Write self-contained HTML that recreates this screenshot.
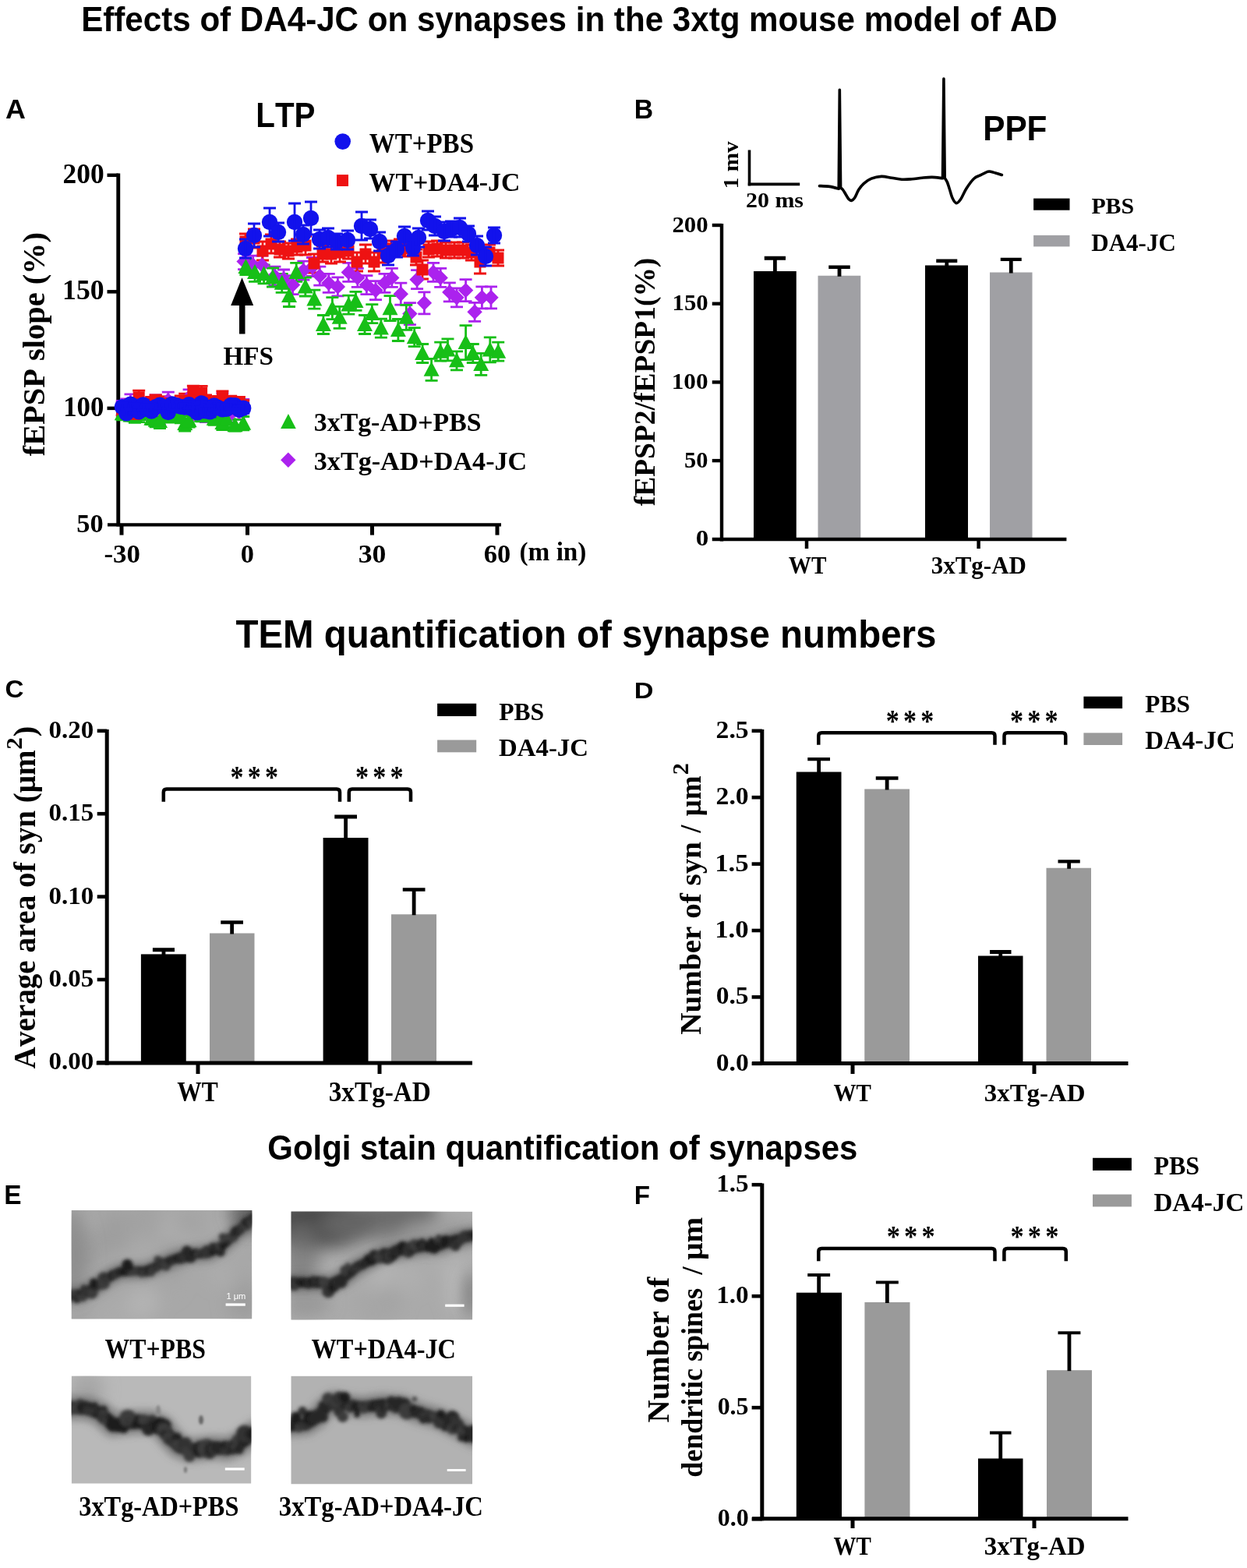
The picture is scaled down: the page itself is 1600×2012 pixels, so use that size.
<!DOCTYPE html>
<html><head><meta charset="utf-8"><title>Effects of DA4-JC on synapses</title>
<style>html,body{margin:0;padding:0;background:#fff;} svg{display:block;} text{font-kerning:none;}</style>
</head><body>
<svg width="1600" height="2012" viewBox="0 0 1600 2012">
<defs>
<filter id="bd" filterUnits="userSpaceOnUse" x="0" y="1500" width="700" height="450"><feGaussianBlur stdDeviation="2.3"/></filter>
<filter id="bh" filterUnits="userSpaceOnUse" x="0" y="1500" width="700" height="450"><feGaussianBlur stdDeviation="5"/></filter>
<filter id="bm" filterUnits="userSpaceOnUse" x="0" y="1500" width="700" height="450"><feGaussianBlur stdDeviation="10"/></filter>
<filter id="bs" filterUnits="userSpaceOnUse" x="0" y="1500" width="700" height="450"><feGaussianBlur stdDeviation="1.5"/></filter>
<clipPath id="c1"><rect x="91.7" y="1553" width="231.6" height="139.4"/></clipPath>
<clipPath id="c2"><rect x="373.5" y="1554.6" width="232.7" height="139"/></clipPath>
<clipPath id="c3"><rect x="91.7" y="1765.6" width="230.7" height="138.1"/></clipPath>
<clipPath id="c4"><rect x="373.3" y="1765.6" width="232.9" height="138.9"/></clipPath>
<linearGradient id="g2" x1="0" y1="0" x2="1" y2="1"><stop offset="0" stop-color="#4e4e4e"/><stop offset="0.45" stop-color="#8a8a8a"/><stop offset="0.75" stop-color="#b2b2b2"/><stop offset="1" stop-color="#b0b0b0"/></linearGradient>
</defs>
<rect x="0" y="0" width="1600" height="2012" fill="#ffffff"/>
<text x="104.18" y="39.50" font-family="'Liberation Sans', Arial, Helvetica, sans-serif" font-weight="bold" font-size="43.61" textLength="1252.59" lengthAdjust="spacingAndGlyphs" fill="#000">Effects of DA4-JC on synapses in the 3xtg mouse model of AD</text>
<text x="302.47" y="831.00" font-family="'Liberation Sans', Arial, Helvetica, sans-serif" font-weight="bold" font-size="49.42" textLength="898.98" lengthAdjust="spacingAndGlyphs" fill="#000">TEM quantification of synapse numbers</text>
<text x="343.28" y="1487.50" font-family="'Liberation Sans', Arial, Helvetica, sans-serif" font-weight="bold" font-size="45.06" textLength="757.14" lengthAdjust="spacingAndGlyphs" fill="#000">Golgi stain quantification of synapses</text>
<text x="7.01" y="152.00" font-family="'Liberation Sans', Arial, Helvetica, sans-serif" font-weight="bold" font-size="34.30" textLength="25.94" lengthAdjust="spacingAndGlyphs" fill="#000">A</text>
<text x="813.74" y="151.90" font-family="'Liberation Sans', Arial, Helvetica, sans-serif" font-weight="bold" font-size="35.47" textLength="24.39" lengthAdjust="spacingAndGlyphs" fill="#000">B</text>
<text x="6.54" y="895.20" font-family="'Liberation Sans', Arial, Helvetica, sans-serif" font-weight="bold" font-size="31.40" textLength="23.97" lengthAdjust="spacingAndGlyphs" fill="#000">C</text>
<text x="813.71" y="895.60" font-family="'Liberation Sans', Arial, Helvetica, sans-serif" font-weight="bold" font-size="30.23" textLength="24.73" lengthAdjust="spacingAndGlyphs" fill="#000">D</text>
<text x="5.26" y="1545.00" font-family="'Liberation Sans', Arial, Helvetica, sans-serif" font-weight="bold" font-size="35.03" textLength="22.29" lengthAdjust="spacingAndGlyphs" fill="#000">E</text>
<text x="813.78" y="1545.00" font-family="'Liberation Sans', Arial, Helvetica, sans-serif" font-weight="bold" font-size="34.01" textLength="20.23" lengthAdjust="spacingAndGlyphs" fill="#000">F</text>
<text x="328.31" y="162.50" font-family="'Liberation Sans', Arial, Helvetica, sans-serif" font-weight="bold" font-size="43.90" textLength="76.07" lengthAdjust="spacingAndGlyphs" fill="#000">LTP</text>
<text x="1261.17" y="179.90" font-family="'Liberation Sans', Arial, Helvetica, sans-serif" font-weight="bold" font-size="44.48" textLength="82.28" lengthAdjust="spacingAndGlyphs" fill="#000">PPF</text>
<line x1="151.75" y1="222.50" x2="151.75" y2="675.60" stroke="#000" stroke-width="4.9" stroke-linecap="butt"/>
<line x1="138.00" y1="673.40" x2="643.00" y2="673.40" stroke="#000" stroke-width="4.4" stroke-linecap="butt"/>
<line x1="137.50" y1="224.80" x2="151.75" y2="224.80" stroke="#000" stroke-width="4.5" stroke-linecap="butt"/>
<line x1="137.50" y1="374.34" x2="151.75" y2="374.34" stroke="#000" stroke-width="4.5" stroke-linecap="butt"/>
<line x1="137.50" y1="523.87" x2="151.75" y2="523.87" stroke="#000" stroke-width="4.5" stroke-linecap="butt"/>
<line x1="156.00" y1="673.40" x2="156.00" y2="686.60" stroke="#000" stroke-width="5" stroke-linecap="butt"/>
<line x1="317.50" y1="673.40" x2="317.50" y2="686.60" stroke="#000" stroke-width="5" stroke-linecap="butt"/>
<line x1="477.50" y1="673.40" x2="477.50" y2="686.60" stroke="#000" stroke-width="5" stroke-linecap="butt"/>
<line x1="638.00" y1="673.40" x2="638.00" y2="686.60" stroke="#000" stroke-width="5" stroke-linecap="butt"/>
<text x="80.51" y="234.50" font-family="'Liberation Serif', 'Times New Roman', serif" font-weight="bold" font-size="35.00" textLength="53.14" lengthAdjust="spacingAndGlyphs" fill="#000">200</text>
<text x="80.14" y="384.04" font-family="'Liberation Serif', 'Times New Roman', serif" font-weight="bold" font-size="35.00" textLength="53.52" lengthAdjust="spacingAndGlyphs" fill="#000">150</text>
<text x="81.21" y="533.57" font-family="'Liberation Serif', 'Times New Roman', serif" font-weight="bold" font-size="35.00" textLength="52.21" lengthAdjust="spacingAndGlyphs" fill="#000">100</text>
<text x="98.32" y="682.61" font-family="'Liberation Serif', 'Times New Roman', serif" font-weight="bold" font-size="34.00" textLength="34.39" lengthAdjust="spacingAndGlyphs" fill="#000">50</text>
<text x="133.42" y="721.60" font-family="'Liberation Serif', 'Times New Roman', serif" font-weight="bold" font-size="34.00" textLength="46.51" lengthAdjust="spacingAndGlyphs" fill="#000">-30</text>
<text x="308.89" y="721.60" font-family="'Liberation Serif', 'Times New Roman', serif" font-weight="bold" font-size="34.00" textLength="17.22" lengthAdjust="spacingAndGlyphs" fill="#000">0</text>
<text x="459.66" y="721.80" font-family="'Liberation Serif', 'Times New Roman', serif" font-weight="bold" font-size="34.00" textLength="35.70" lengthAdjust="spacingAndGlyphs" fill="#000">30</text>
<text x="620.82" y="721.80" font-family="'Liberation Serif', 'Times New Roman', serif" font-weight="bold" font-size="34.00" textLength="34.49" lengthAdjust="spacingAndGlyphs" fill="#000">60</text>
<text x="666.54" y="718.50" font-family="'Liberation Serif', 'Times New Roman', serif" font-weight="bold" font-size="32.84" textLength="85.92" lengthAdjust="spacingAndGlyphs" fill="#000">(m in)</text>
<text transform="translate(56.60,585.00) rotate(-90)" x="-0.30" y="0" font-family="'Liberation Serif', 'Times New Roman', serif" font-weight="bold" font-size="40.47" textLength="287.27" lengthAdjust="spacingAndGlyphs" fill="#000">fEPSP slope (%)</text>
<path d="M156.8,514.4 V532.7 M148.8,514.4 H164.8 M148.8,532.7 H164.8" stroke="#ab22ee" stroke-width="2.8" fill="none"/>
<path d="M162.2,511.8 V528.7 M154.2,511.8 H170.2 M154.2,528.7 H170.2" stroke="#ab22ee" stroke-width="2.8" fill="none"/>
<path d="M167.5,505.9 V527.4 M159.5,505.9 H175.5 M159.5,527.4 H175.5" stroke="#ab22ee" stroke-width="2.8" fill="none"/>
<path d="M172.9,510.3 V531.1 M164.9,510.3 H180.9 M164.9,531.1 H180.9" stroke="#ab22ee" stroke-width="2.8" fill="none"/>
<path d="M178.2,513.7 V533.0 M170.2,513.7 H186.2 M170.2,533.0 H186.2" stroke="#ab22ee" stroke-width="2.8" fill="none"/>
<path d="M183.6,520.5 V538.2 M175.6,520.5 H191.6 M175.6,538.2 H191.6" stroke="#ab22ee" stroke-width="2.8" fill="none"/>
<path d="M189.0,513.5 V530.8 M181.0,513.5 H197.0 M181.0,530.8 H197.0" stroke="#ab22ee" stroke-width="2.8" fill="none"/>
<path d="M194.3,509.8 V531.4 M186.3,509.8 H202.3 M186.3,531.4 H202.3" stroke="#ab22ee" stroke-width="2.8" fill="none"/>
<path d="M199.7,506.8 V527.6 M191.7,506.8 H207.7 M191.7,527.6 H207.7" stroke="#ab22ee" stroke-width="2.8" fill="none"/>
<path d="M205.0,527.7 V544.8 M197.0,527.7 H213.0 M197.0,544.8 H213.0" stroke="#ab22ee" stroke-width="2.8" fill="none"/>
<path d="M210.4,517.7 V538.1 M202.4,517.7 H218.4 M202.4,538.1 H218.4" stroke="#ab22ee" stroke-width="2.8" fill="none"/>
<path d="M215.8,503.1 V524.3 M207.8,503.1 H223.8 M207.8,524.3 H223.8" stroke="#ab22ee" stroke-width="2.8" fill="none"/>
<path d="M221.1,511.6 V531.3 M213.1,511.6 H229.1 M213.1,531.3 H229.1" stroke="#ab22ee" stroke-width="2.8" fill="none"/>
<path d="M226.5,516.1 V536.2 M218.5,516.1 H234.5 M218.5,536.2 H234.5" stroke="#ab22ee" stroke-width="2.8" fill="none"/>
<path d="M231.8,519.3 V538.2 M223.8,519.3 H239.8 M223.8,538.2 H239.8" stroke="#ab22ee" stroke-width="2.8" fill="none"/>
<path d="M237.2,515.8 V532.3 M229.2,515.8 H245.2 M229.2,532.3 H245.2" stroke="#ab22ee" stroke-width="2.8" fill="none"/>
<path d="M242.6,499.9 V519.2 M234.6,499.9 H250.6 M234.6,519.2 H250.6" stroke="#ab22ee" stroke-width="2.8" fill="none"/>
<path d="M247.9,521.2 V539.0 M239.9,521.2 H255.9 M239.9,539.0 H255.9" stroke="#ab22ee" stroke-width="2.8" fill="none"/>
<path d="M253.3,504.7 V526.0 M245.3,504.7 H261.3 M245.3,526.0 H261.3" stroke="#ab22ee" stroke-width="2.8" fill="none"/>
<path d="M258.6,518.8 V539.9 M250.6,518.8 H266.6 M250.6,539.9 H266.6" stroke="#ab22ee" stroke-width="2.8" fill="none"/>
<path d="M264.0,522.1 V541.7 M256.0,522.1 H272.0 M256.0,541.7 H272.0" stroke="#ab22ee" stroke-width="2.8" fill="none"/>
<path d="M269.4,515.0 V533.6 M261.4,515.0 H277.4 M261.4,533.6 H277.4" stroke="#ab22ee" stroke-width="2.8" fill="none"/>
<path d="M274.7,509.9 V530.8 M266.7,509.9 H282.7 M266.7,530.8 H282.7" stroke="#ab22ee" stroke-width="2.8" fill="none"/>
<path d="M280.1,510.1 V526.4 M272.1,510.1 H288.1 M272.1,526.4 H288.1" stroke="#ab22ee" stroke-width="2.8" fill="none"/>
<path d="M285.4,504.6 V522.3 M277.4,504.6 H293.4 M277.4,522.3 H293.4" stroke="#ab22ee" stroke-width="2.8" fill="none"/>
<path d="M290.8,511.1 V530.3 M282.8,511.1 H298.8 M282.8,530.3 H298.8" stroke="#ab22ee" stroke-width="2.8" fill="none"/>
<path d="M296.2,519.9 V541.9 M288.2,519.9 H304.2 M288.2,541.9 H304.2" stroke="#ab22ee" stroke-width="2.8" fill="none"/>
<path d="M301.5,514.0 V531.2 M293.5,514.0 H309.5 M293.5,531.2 H309.5" stroke="#ab22ee" stroke-width="2.8" fill="none"/>
<path d="M306.9,518.4 V538.2 M298.9,518.4 H314.9 M298.9,538.2 H314.9" stroke="#ab22ee" stroke-width="2.8" fill="none"/>
<path d="M312.2,512.3 V530.0 M304.2,512.3 H320.2 M304.2,530.0 H320.2" stroke="#ab22ee" stroke-width="2.8" fill="none"/>
<path d="M313.1,325.6 V345.6 M305.1,325.6 H321.1 M305.1,345.6 H321.1" stroke="#ab22ee" stroke-width="2.8" fill="none"/>
<path d="M324.7,328.2 V352.2 M316.7,328.2 H332.7 M316.7,352.2 H332.7" stroke="#ab22ee" stroke-width="2.8" fill="none"/>
<path d="M336.3,328.2 V352.2 M328.3,328.2 H344.3 M328.3,352.2 H344.3" stroke="#ab22ee" stroke-width="2.8" fill="none"/>
<path d="M352.4,342.1 V366.1 M344.4,342.1 H360.4 M344.4,366.1 H360.4" stroke="#ab22ee" stroke-width="2.8" fill="none"/>
<path d="M364.0,346.0 V370.0 M356.0,346.0 H372.0 M356.0,370.0 H372.0" stroke="#ab22ee" stroke-width="2.8" fill="none"/>
<path d="M375.6,353.6 V377.6 M367.6,353.6 H383.6 M367.6,377.6 H383.6" stroke="#ab22ee" stroke-width="2.8" fill="none"/>
<path d="M389.4,335.1 V359.1 M381.4,335.1 H397.4 M381.4,359.1 H397.4" stroke="#ab22ee" stroke-width="2.8" fill="none"/>
<path d="M401.0,330.5 V354.5 M393.0,330.5 H409.0 M393.0,354.5 H409.0" stroke="#ab22ee" stroke-width="2.8" fill="none"/>
<path d="M410.3,342.1 V366.1 M402.3,342.1 H418.3 M402.3,366.1 H418.3" stroke="#ab22ee" stroke-width="2.8" fill="none"/>
<path d="M421.8,351.3 V375.3 M413.8,351.3 H429.8 M413.8,375.3 H429.8" stroke="#ab22ee" stroke-width="2.8" fill="none"/>
<path d="M433.4,355.9 V379.9 M425.4,355.9 H441.4 M425.4,379.9 H441.4" stroke="#ab22ee" stroke-width="2.8" fill="none"/>
<path d="M447.3,337.4 V361.4 M439.3,337.4 H455.3 M439.3,361.4 H455.3" stroke="#ab22ee" stroke-width="2.8" fill="none"/>
<path d="M458.8,344.4 V368.4 M450.8,344.4 H466.8 M450.8,368.4 H466.8" stroke="#ab22ee" stroke-width="2.8" fill="none"/>
<path d="M470.4,353.6 V377.6 M462.4,353.6 H478.4 M462.4,377.6 H478.4" stroke="#ab22ee" stroke-width="2.8" fill="none"/>
<path d="M482.0,360.6 V384.6 M474.0,360.6 H490.0 M474.0,384.6 H490.0" stroke="#ab22ee" stroke-width="2.8" fill="none"/>
<path d="M493.5,351.3 V375.3 M485.5,351.3 H501.5 M485.5,375.3 H501.5" stroke="#ab22ee" stroke-width="2.8" fill="none"/>
<path d="M502.8,344.4 V368.4 M494.8,344.4 H510.8 M494.8,368.4 H510.8" stroke="#ab22ee" stroke-width="2.8" fill="none"/>
<path d="M514.3,363.2 V391.2 M506.3,363.2 H522.3 M506.3,391.2 H522.3" stroke="#ab22ee" stroke-width="2.8" fill="none"/>
<path d="M525.9,388.6 V416.6 M517.9,388.6 H533.9 M517.9,416.6 H533.9" stroke="#ab22ee" stroke-width="2.8" fill="none"/>
<path d="M535.1,346.7 V370.7 M527.1,346.7 H543.1 M527.1,370.7 H543.1" stroke="#ab22ee" stroke-width="2.8" fill="none"/>
<path d="M544.4,374.8 V402.8 M536.4,374.8 H552.4 M536.4,402.8 H552.4" stroke="#ab22ee" stroke-width="2.8" fill="none"/>
<path d="M556.0,337.4 V361.4 M548.0,337.4 H564.0 M548.0,361.4 H564.0" stroke="#ab22ee" stroke-width="2.8" fill="none"/>
<path d="M565.2,344.4 V368.4 M557.2,344.4 H573.2 M557.2,368.4 H573.2" stroke="#ab22ee" stroke-width="2.8" fill="none"/>
<path d="M576.8,362.9 V386.9 M568.8,362.9 H584.8 M568.8,386.9 H584.8" stroke="#ab22ee" stroke-width="2.8" fill="none"/>
<path d="M586.0,369.8 V393.8 M578.0,369.8 H594.0 M578.0,393.8 H594.0" stroke="#ab22ee" stroke-width="2.8" fill="none"/>
<path d="M597.6,358.6 V386.6 M589.6,358.6 H605.6 M589.6,386.6 H605.6" stroke="#ab22ee" stroke-width="2.8" fill="none"/>
<path d="M609.1,388.3 V412.3 M601.1,388.3 H617.1 M601.1,412.3 H617.1" stroke="#ab22ee" stroke-width="2.8" fill="none"/>
<path d="M618.4,367.8 V395.8 M610.4,367.8 H626.4 M610.4,395.8 H626.4" stroke="#ab22ee" stroke-width="2.8" fill="none"/>
<path d="M630.0,367.8 V395.8 M622.0,367.8 H638.0 M622.0,395.8 H638.0" stroke="#ab22ee" stroke-width="2.8" fill="none"/>
<path d="M156.8,522.7 V538.9 M148.8,522.7 H164.8 M148.8,538.9 H164.8" stroke="#17bf17" stroke-width="2.8" fill="none"/>
<path d="M162.2,515.1 V532.7 M154.2,515.1 H170.2 M154.2,532.7 H170.2" stroke="#17bf17" stroke-width="2.8" fill="none"/>
<path d="M167.5,525.9 V539.9 M159.5,525.9 H175.5 M159.5,539.9 H175.5" stroke="#17bf17" stroke-width="2.8" fill="none"/>
<path d="M172.9,523.4 V542.4 M164.9,523.4 H180.9 M164.9,542.4 H180.9" stroke="#17bf17" stroke-width="2.8" fill="none"/>
<path d="M178.2,521.6 V541.6 M170.2,521.6 H186.2 M170.2,541.6 H186.2" stroke="#17bf17" stroke-width="2.8" fill="none"/>
<path d="M183.6,518.6 V535.4 M175.6,518.6 H191.6 M175.6,535.4 H191.6" stroke="#17bf17" stroke-width="2.8" fill="none"/>
<path d="M189.0,518.9 V536.7 M181.0,518.9 H197.0 M181.0,536.7 H197.0" stroke="#17bf17" stroke-width="2.8" fill="none"/>
<path d="M194.3,529.7 V544.6 M186.3,529.7 H202.3 M186.3,544.6 H202.3" stroke="#17bf17" stroke-width="2.8" fill="none"/>
<path d="M199.7,530.7 V547.9 M191.7,530.7 H207.7 M191.7,547.9 H207.7" stroke="#17bf17" stroke-width="2.8" fill="none"/>
<path d="M205.0,531.1 V549.6 M197.0,531.1 H213.0 M197.0,549.6 H213.0" stroke="#17bf17" stroke-width="2.8" fill="none"/>
<path d="M210.4,523.1 V541.7 M202.4,523.1 H218.4 M202.4,541.7 H218.4" stroke="#17bf17" stroke-width="2.8" fill="none"/>
<path d="M215.8,524.5 V542.0 M207.8,524.5 H223.8 M207.8,542.0 H223.8" stroke="#17bf17" stroke-width="2.8" fill="none"/>
<path d="M221.1,522.2 V541.4 M213.1,522.2 H229.1 M213.1,541.4 H229.1" stroke="#17bf17" stroke-width="2.8" fill="none"/>
<path d="M226.5,521.5 V538.3 M218.5,521.5 H234.5 M218.5,538.3 H234.5" stroke="#17bf17" stroke-width="2.8" fill="none"/>
<path d="M231.8,524.6 V542.9 M223.8,524.6 H239.8 M223.8,542.9 H239.8" stroke="#17bf17" stroke-width="2.8" fill="none"/>
<path d="M237.2,533.6 V553.2 M229.2,533.6 H245.2 M229.2,553.2 H245.2" stroke="#17bf17" stroke-width="2.8" fill="none"/>
<path d="M242.6,531.5 V548.2 M234.6,531.5 H250.6 M234.6,548.2 H250.6" stroke="#17bf17" stroke-width="2.8" fill="none"/>
<path d="M247.9,515.0 V534.6 M239.9,515.0 H255.9 M239.9,534.6 H255.9" stroke="#17bf17" stroke-width="2.8" fill="none"/>
<path d="M253.3,522.0 V536.8 M245.3,522.0 H261.3 M245.3,536.8 H261.3" stroke="#17bf17" stroke-width="2.8" fill="none"/>
<path d="M258.6,525.6 V540.9 M250.6,525.6 H266.6 M250.6,540.9 H266.6" stroke="#17bf17" stroke-width="2.8" fill="none"/>
<path d="M264.0,516.2 V534.0 M256.0,516.2 H272.0 M256.0,534.0 H272.0" stroke="#17bf17" stroke-width="2.8" fill="none"/>
<path d="M269.4,524.8 V540.6 M261.4,524.8 H277.4 M261.4,540.6 H277.4" stroke="#17bf17" stroke-width="2.8" fill="none"/>
<path d="M274.7,529.2 V545.3 M266.7,529.2 H282.7 M266.7,545.3 H282.7" stroke="#17bf17" stroke-width="2.8" fill="none"/>
<path d="M280.1,522.9 V540.4 M272.1,522.9 H288.1 M272.1,540.4 H288.1" stroke="#17bf17" stroke-width="2.8" fill="none"/>
<path d="M285.4,533.5 V551.6 M277.4,533.5 H293.4 M277.4,551.6 H293.4" stroke="#17bf17" stroke-width="2.8" fill="none"/>
<path d="M290.8,528.1 V547.7 M282.8,528.1 H298.8 M282.8,547.7 H298.8" stroke="#17bf17" stroke-width="2.8" fill="none"/>
<path d="M296.2,511.0 V529.0 M288.2,511.0 H304.2 M288.2,529.0 H304.2" stroke="#17bf17" stroke-width="2.8" fill="none"/>
<path d="M301.5,538.3 V553.2 M293.5,538.3 H309.5 M293.5,553.2 H309.5" stroke="#17bf17" stroke-width="2.8" fill="none"/>
<path d="M306.9,511.7 V531.2 M298.9,511.7 H314.9 M298.9,531.2 H314.9" stroke="#17bf17" stroke-width="2.8" fill="none"/>
<path d="M312.2,534.5 V551.9 M304.2,534.5 H320.2 M304.2,551.9 H320.2" stroke="#17bf17" stroke-width="2.8" fill="none"/>
<path d="M315.4,332.5 V352.5 M307.4,332.5 H323.4 M307.4,352.5 H323.4" stroke="#17bf17" stroke-width="2.8" fill="none"/>
<path d="M327.0,337.4 V361.4 M319.0,337.4 H335.0 M319.0,361.4 H335.0" stroke="#17bf17" stroke-width="2.8" fill="none"/>
<path d="M338.6,339.8 V363.8 M330.6,339.8 H346.6 M330.6,363.8 H346.6" stroke="#17bf17" stroke-width="2.8" fill="none"/>
<path d="M350.0,344.0 V368.0 M342.0,344.0 H358.0 M342.0,368.0 H358.0" stroke="#17bf17" stroke-width="2.8" fill="none"/>
<path d="M361.7,351.3 V375.3 M353.7,351.3 H369.7 M353.7,375.3 H369.7" stroke="#17bf17" stroke-width="2.8" fill="none"/>
<path d="M371.0,365.5 V393.5 M363.0,365.5 H379.0 M363.0,393.5 H379.0" stroke="#17bf17" stroke-width="2.8" fill="none"/>
<path d="M380.2,337.4 V361.4 M372.2,337.4 H388.2 M372.2,361.4 H388.2" stroke="#17bf17" stroke-width="2.8" fill="none"/>
<path d="M391.8,356.0 V380.0 M383.8,356.0 H399.8 M383.8,380.0 H399.8" stroke="#17bf17" stroke-width="2.8" fill="none"/>
<path d="M403.3,372.1 V396.1 M395.3,372.1 H411.3 M395.3,396.1 H411.3" stroke="#17bf17" stroke-width="2.8" fill="none"/>
<path d="M414.9,404.5 V428.5 M406.9,404.5 H422.9 M406.9,428.5 H422.9" stroke="#17bf17" stroke-width="2.8" fill="none"/>
<path d="M426.4,381.7 V409.7 M418.4,381.7 H434.4 M418.4,409.7 H434.4" stroke="#17bf17" stroke-width="2.8" fill="none"/>
<path d="M435.7,393.3 V421.3 M427.7,393.3 H443.7 M427.7,421.3 H443.7" stroke="#17bf17" stroke-width="2.8" fill="none"/>
<path d="M447.3,379.1 V403.1 M439.3,379.1 H455.3 M439.3,403.1 H455.3" stroke="#17bf17" stroke-width="2.8" fill="none"/>
<path d="M456.5,374.4 V398.4 M448.5,374.4 H464.5 M448.5,398.4 H464.5" stroke="#17bf17" stroke-width="2.8" fill="none"/>
<path d="M468.0,404.5 V428.5 M460.0,404.5 H476.0 M460.0,428.5 H476.0" stroke="#17bf17" stroke-width="2.8" fill="none"/>
<path d="M477.3,390.6 V414.6 M469.3,390.6 H485.3 M469.3,414.6 H485.3" stroke="#17bf17" stroke-width="2.8" fill="none"/>
<path d="M488.9,409.1 V433.1 M480.9,409.1 H496.9 M480.9,433.1 H496.9" stroke="#17bf17" stroke-width="2.8" fill="none"/>
<path d="M500.5,379.7 V411.7 M492.5,379.7 H508.5 M492.5,411.7 H508.5" stroke="#17bf17" stroke-width="2.8" fill="none"/>
<path d="M510.9,409.5 V437.5 M502.9,409.5 H518.9 M502.9,437.5 H518.9" stroke="#17bf17" stroke-width="2.8" fill="none"/>
<path d="M521.3,391.3 V423.3 M513.3,391.3 H529.3 M513.3,423.3 H529.3" stroke="#17bf17" stroke-width="2.8" fill="none"/>
<path d="M531.7,420.7 V444.7 M523.7,420.7 H539.7 M523.7,444.7 H539.7" stroke="#17bf17" stroke-width="2.8" fill="none"/>
<path d="M542.1,441.5 V465.5 M534.1,441.5 H550.1 M534.1,465.5 H550.1" stroke="#17bf17" stroke-width="2.8" fill="none"/>
<path d="M553.6,460.3 V488.3 M545.6,460.3 H561.6 M545.6,488.3 H561.6" stroke="#17bf17" stroke-width="2.8" fill="none"/>
<path d="M565.2,439.2 V463.2 M557.2,439.2 H573.2 M557.2,463.2 H573.2" stroke="#17bf17" stroke-width="2.8" fill="none"/>
<path d="M574.5,434.9 V462.9 M566.5,434.9 H582.5 M566.5,462.9 H582.5" stroke="#17bf17" stroke-width="2.8" fill="none"/>
<path d="M586.0,450.8 V474.8 M578.0,450.8 H594.0 M578.0,474.8 H594.0" stroke="#17bf17" stroke-width="2.8" fill="none"/>
<path d="M597.6,417.6 V461.6 M589.6,417.6 H605.6 M589.6,461.6 H605.6" stroke="#17bf17" stroke-width="2.8" fill="none"/>
<path d="M606.8,441.5 V465.5 M598.8,441.5 H614.8 M598.8,465.5 H614.8" stroke="#17bf17" stroke-width="2.8" fill="none"/>
<path d="M617.2,453.4 V481.4 M609.2,453.4 H625.2 M609.2,481.4 H625.2" stroke="#17bf17" stroke-width="2.8" fill="none"/>
<path d="M628.8,432.9 V464.9 M620.8,432.9 H636.8 M620.8,464.9 H636.8" stroke="#17bf17" stroke-width="2.8" fill="none"/>
<path d="M639.2,439.2 V463.2 M631.2,439.2 H647.2 M631.2,463.2 H647.2" stroke="#17bf17" stroke-width="2.8" fill="none"/>
<path d="M156.8,516.6 V533.3 M148.8,516.6 H164.8 M148.8,533.3 H164.8" stroke="#ee1212" stroke-width="2.8" fill="none"/>
<path d="M162.2,515.9 V533.6 M154.2,515.9 H170.2 M154.2,533.6 H170.2" stroke="#ee1212" stroke-width="2.8" fill="none"/>
<path d="M167.5,512.7 V524.8 M159.5,512.7 H175.5 M159.5,524.8 H175.5" stroke="#ee1212" stroke-width="2.8" fill="none"/>
<path d="M172.9,524.0 V538.8 M164.9,524.0 H180.9 M164.9,538.8 H180.9" stroke="#ee1212" stroke-width="2.8" fill="none"/>
<path d="M178.2,501.1 V518.5 M170.2,501.1 H186.2 M170.2,518.5 H186.2" stroke="#ee1212" stroke-width="2.8" fill="none"/>
<path d="M183.6,514.6 V527.2 M175.6,514.6 H191.6 M175.6,527.2 H191.6" stroke="#ee1212" stroke-width="2.8" fill="none"/>
<path d="M189.0,514.7 V529.9 M181.0,514.7 H197.0 M181.0,529.9 H197.0" stroke="#ee1212" stroke-width="2.8" fill="none"/>
<path d="M194.3,509.3 V524.7 M186.3,509.3 H202.3 M186.3,524.7 H202.3" stroke="#ee1212" stroke-width="2.8" fill="none"/>
<path d="M199.7,506.9 V520.6 M191.7,506.9 H207.7 M191.7,520.6 H207.7" stroke="#ee1212" stroke-width="2.8" fill="none"/>
<path d="M205.0,508.8 V526.3 M197.0,508.8 H213.0 M197.0,526.3 H213.0" stroke="#ee1212" stroke-width="2.8" fill="none"/>
<path d="M210.4,509.1 V525.9 M202.4,509.1 H218.4 M202.4,525.9 H218.4" stroke="#ee1212" stroke-width="2.8" fill="none"/>
<path d="M215.8,515.0 V527.8 M207.8,515.0 H223.8 M207.8,527.8 H223.8" stroke="#ee1212" stroke-width="2.8" fill="none"/>
<path d="M221.1,514.2 V526.2 M213.1,514.2 H229.1 M213.1,526.2 H229.1" stroke="#ee1212" stroke-width="2.8" fill="none"/>
<path d="M226.5,511.4 V528.6 M218.5,511.4 H234.5 M218.5,528.6 H234.5" stroke="#ee1212" stroke-width="2.8" fill="none"/>
<path d="M231.8,507.9 V525.8 M223.8,507.9 H239.8 M223.8,525.8 H239.8" stroke="#ee1212" stroke-width="2.8" fill="none"/>
<path d="M237.2,505.2 V522.5 M229.2,505.2 H245.2 M229.2,522.5 H245.2" stroke="#ee1212" stroke-width="2.8" fill="none"/>
<path d="M242.6,514.0 V529.2 M234.6,514.0 H250.6 M234.6,529.2 H250.6" stroke="#ee1212" stroke-width="2.8" fill="none"/>
<path d="M247.9,495.1 V511.1 M239.9,495.1 H255.9 M239.9,511.1 H255.9" stroke="#ee1212" stroke-width="2.8" fill="none"/>
<path d="M253.3,505.8 V522.0 M245.3,505.8 H261.3 M245.3,522.0 H261.3" stroke="#ee1212" stroke-width="2.8" fill="none"/>
<path d="M258.6,495.3 V513.1 M250.6,495.3 H266.6 M250.6,513.1 H266.6" stroke="#ee1212" stroke-width="2.8" fill="none"/>
<path d="M264.0,506.8 V521.0 M256.0,506.8 H272.0 M256.0,521.0 H272.0" stroke="#ee1212" stroke-width="2.8" fill="none"/>
<path d="M269.4,514.5 V527.5 M261.4,514.5 H277.4 M261.4,527.5 H277.4" stroke="#ee1212" stroke-width="2.8" fill="none"/>
<path d="M274.7,509.6 V523.5 M266.7,509.6 H282.7 M266.7,523.5 H282.7" stroke="#ee1212" stroke-width="2.8" fill="none"/>
<path d="M280.1,508.3 V524.0 M272.1,508.3 H288.1 M272.1,524.0 H288.1" stroke="#ee1212" stroke-width="2.8" fill="none"/>
<path d="M285.4,501.9 V515.9 M277.4,501.9 H293.4 M277.4,515.9 H293.4" stroke="#ee1212" stroke-width="2.8" fill="none"/>
<path d="M290.8,510.8 V524.6 M282.8,510.8 H298.8 M282.8,524.6 H298.8" stroke="#ee1212" stroke-width="2.8" fill="none"/>
<path d="M296.2,508.1 V522.0 M288.2,508.1 H304.2 M288.2,522.0 H304.2" stroke="#ee1212" stroke-width="2.8" fill="none"/>
<path d="M301.5,516.7 V531.6 M293.5,516.7 H309.5 M293.5,531.6 H309.5" stroke="#ee1212" stroke-width="2.8" fill="none"/>
<path d="M306.9,509.5 V527.4 M298.9,509.5 H314.9 M298.9,527.4 H314.9" stroke="#ee1212" stroke-width="2.8" fill="none"/>
<path d="M312.2,513.8 V525.9 M304.2,513.8 H320.2 M304.2,525.9 H320.2" stroke="#ee1212" stroke-width="2.8" fill="none"/>
<path d="M315.0,300.0 V320.0 M307.0,300.0 H323.0 M307.0,320.0 H323.0" stroke="#ee1212" stroke-width="2.8" fill="none"/>
<path d="M326.0,294.0 V318.0 M318.0,294.0 H334.0 M318.0,318.0 H334.0" stroke="#ee1212" stroke-width="2.8" fill="none"/>
<path d="M337.0,310.0 V334.0 M329.0,310.0 H345.0 M329.0,334.0 H345.0" stroke="#ee1212" stroke-width="2.8" fill="none"/>
<path d="M348.0,301.0 V325.0 M340.0,301.0 H356.0 M340.0,325.0 H356.0" stroke="#ee1212" stroke-width="2.8" fill="none"/>
<path d="M359.0,310.0 V330.0 M351.0,310.0 H367.0 M351.0,330.0 H367.0" stroke="#ee1212" stroke-width="2.8" fill="none"/>
<path d="M370.0,312.0 V332.0 M362.0,312.0 H378.0 M362.0,332.0 H378.0" stroke="#ee1212" stroke-width="2.8" fill="none"/>
<path d="M381.0,307.0 V327.0 M373.0,307.0 H389.0 M373.0,327.0 H389.0" stroke="#ee1212" stroke-width="2.8" fill="none"/>
<path d="M392.0,303.0 V327.0 M384.0,303.0 H400.0 M384.0,327.0 H400.0" stroke="#ee1212" stroke-width="2.8" fill="none"/>
<path d="M403.0,326.0 V350.0 M395.0,326.0 H411.0 M395.0,350.0 H411.0" stroke="#ee1212" stroke-width="2.8" fill="none"/>
<path d="M414.0,316.0 V336.0 M406.0,316.0 H422.0 M406.0,336.0 H422.0" stroke="#ee1212" stroke-width="2.8" fill="none"/>
<path d="M425.0,314.0 V338.0 M417.0,314.0 H433.0 M417.0,338.0 H433.0" stroke="#ee1212" stroke-width="2.8" fill="none"/>
<path d="M436.0,312.0 V336.0 M428.0,312.0 H444.0 M428.0,336.0 H444.0" stroke="#ee1212" stroke-width="2.8" fill="none"/>
<path d="M447.0,312.0 V332.0 M439.0,312.0 H455.0 M439.0,332.0 H455.0" stroke="#ee1212" stroke-width="2.8" fill="none"/>
<path d="M458.0,324.0 V348.0 M450.0,324.0 H466.0 M450.0,348.0 H466.0" stroke="#ee1212" stroke-width="2.8" fill="none"/>
<path d="M469.0,314.0 V338.0 M461.0,314.0 H477.0 M461.0,338.0 H477.0" stroke="#ee1212" stroke-width="2.8" fill="none"/>
<path d="M480.0,324.0 V348.0 M472.0,324.0 H488.0 M472.0,348.0 H488.0" stroke="#ee1212" stroke-width="2.8" fill="none"/>
<path d="M491.0,313.0 V337.0 M483.0,313.0 H499.0 M483.0,337.0 H499.0" stroke="#ee1212" stroke-width="2.8" fill="none"/>
<path d="M502.0,309.0 V329.0 M494.0,309.0 H510.0 M494.0,329.0 H510.0" stroke="#ee1212" stroke-width="2.8" fill="none"/>
<path d="M513.0,307.0 V327.0 M505.0,307.0 H521.0 M505.0,327.0 H521.0" stroke="#ee1212" stroke-width="2.8" fill="none"/>
<path d="M524.0,309.0 V329.0 M516.0,309.0 H532.0 M516.0,329.0 H532.0" stroke="#ee1212" stroke-width="2.8" fill="none"/>
<path d="M534.0,320.0 V340.0 M526.0,320.0 H542.0 M526.0,340.0 H542.0" stroke="#ee1212" stroke-width="2.8" fill="none"/>
<path d="M542.0,334.0 V358.0 M534.0,334.0 H550.0 M534.0,358.0 H550.0" stroke="#ee1212" stroke-width="2.8" fill="none"/>
<path d="M550.0,310.0 V330.0 M542.0,310.0 H558.0 M542.0,330.0 H558.0" stroke="#ee1212" stroke-width="2.8" fill="none"/>
<path d="M561.0,309.0 V329.0 M553.0,309.0 H569.0 M553.0,329.0 H569.0" stroke="#ee1212" stroke-width="2.8" fill="none"/>
<path d="M572.0,311.0 V331.0 M564.0,311.0 H580.0 M564.0,331.0 H580.0" stroke="#ee1212" stroke-width="2.8" fill="none"/>
<path d="M583.0,311.0 V331.0 M575.0,311.0 H591.0 M575.0,331.0 H591.0" stroke="#ee1212" stroke-width="2.8" fill="none"/>
<path d="M594.0,311.0 V331.0 M586.0,311.0 H602.0 M586.0,331.0 H602.0" stroke="#ee1212" stroke-width="2.8" fill="none"/>
<path d="M605.0,314.0 V334.0 M597.0,314.0 H613.0 M597.0,334.0 H613.0" stroke="#ee1212" stroke-width="2.8" fill="none"/>
<path d="M616.0,321.0 V351.0 M608.0,321.0 H624.0 M608.0,351.0 H624.0" stroke="#ee1212" stroke-width="2.8" fill="none"/>
<path d="M628.0,314.0 V334.0 M620.0,314.0 H636.0 M620.0,334.0 H636.0" stroke="#ee1212" stroke-width="2.8" fill="none"/>
<path d="M639.0,321.0 V341.0 M631.0,321.0 H647.0 M631.0,341.0 H647.0" stroke="#ee1212" stroke-width="2.8" fill="none"/>
<polygon points="156.8,513.9 166.5,523.6 156.8,533.3 147.1,523.6" fill="#ab22ee"/>
<polygon points="162.2,510.6 171.9,520.3 162.2,530.0 152.5,520.3" fill="#ab22ee"/>
<polygon points="167.5,507.0 177.2,516.7 167.5,526.4 157.8,516.7" fill="#ab22ee"/>
<polygon points="172.9,511.0 182.6,520.7 172.9,530.4 163.2,520.7" fill="#ab22ee"/>
<polygon points="178.2,513.6 187.9,523.3 178.2,533.0 168.5,523.3" fill="#ab22ee"/>
<polygon points="183.6,519.7 193.3,529.4 183.6,539.1 173.9,529.4" fill="#ab22ee"/>
<polygon points="189.0,512.4 198.7,522.1 189.0,531.8 179.3,522.1" fill="#ab22ee"/>
<polygon points="194.3,510.9 204.0,520.6 194.3,530.3 184.6,520.6" fill="#ab22ee"/>
<polygon points="199.7,507.5 209.4,517.2 199.7,526.9 190.0,517.2" fill="#ab22ee"/>
<polygon points="205.0,526.6 214.7,536.3 205.0,546.0 195.3,536.3" fill="#ab22ee"/>
<polygon points="210.4,518.2 220.1,527.9 210.4,537.6 200.7,527.9" fill="#ab22ee"/>
<polygon points="215.8,504.0 225.5,513.7 215.8,523.4 206.1,513.7" fill="#ab22ee"/>
<polygon points="221.1,511.8 230.8,521.5 221.1,531.2 211.4,521.5" fill="#ab22ee"/>
<polygon points="226.5,516.4 236.2,526.1 226.5,535.8 216.8,526.1" fill="#ab22ee"/>
<polygon points="231.8,519.0 241.5,528.7 231.8,538.4 222.1,528.7" fill="#ab22ee"/>
<polygon points="237.2,514.4 246.9,524.1 237.2,533.8 227.5,524.1" fill="#ab22ee"/>
<polygon points="242.6,499.9 252.3,509.6 242.6,519.3 232.9,509.6" fill="#ab22ee"/>
<polygon points="247.9,520.4 257.6,530.1 247.9,539.8 238.2,530.1" fill="#ab22ee"/>
<polygon points="253.3,505.7 263.0,515.4 253.3,525.1 243.6,515.4" fill="#ab22ee"/>
<polygon points="258.6,519.7 268.3,529.4 258.6,539.1 248.9,529.4" fill="#ab22ee"/>
<polygon points="264.0,522.2 273.7,531.9 264.0,541.6 254.3,531.9" fill="#ab22ee"/>
<polygon points="269.4,514.6 279.1,524.3 269.4,534.0 259.7,524.3" fill="#ab22ee"/>
<polygon points="274.7,510.7 284.4,520.4 274.7,530.1 265.0,520.4" fill="#ab22ee"/>
<polygon points="280.1,508.5 289.8,518.2 280.1,527.9 270.4,518.2" fill="#ab22ee"/>
<polygon points="285.4,503.7 295.1,513.4 285.4,523.1 275.7,513.4" fill="#ab22ee"/>
<polygon points="290.8,511.0 300.5,520.7 290.8,530.4 281.1,520.7" fill="#ab22ee"/>
<polygon points="296.2,521.2 305.9,530.9 296.2,540.6 286.5,530.9" fill="#ab22ee"/>
<polygon points="301.5,512.9 311.2,522.6 301.5,532.3 291.8,522.6" fill="#ab22ee"/>
<polygon points="306.9,518.6 316.6,528.3 306.9,538.0 297.2,528.3" fill="#ab22ee"/>
<polygon points="312.2,511.4 321.9,521.1 312.2,530.8 302.5,521.1" fill="#ab22ee"/>
<polygon points="313.1,325.9 322.8,335.6 313.1,345.3 303.4,335.6" fill="#ab22ee"/>
<polygon points="324.7,330.5 334.4,340.2 324.7,349.9 315.0,340.2" fill="#ab22ee"/>
<polygon points="336.3,330.5 346.0,340.2 336.3,349.9 326.6,340.2" fill="#ab22ee"/>
<polygon points="352.4,344.4 362.1,354.1 352.4,363.8 342.7,354.1" fill="#ab22ee"/>
<polygon points="364.0,348.3 373.7,358.0 364.0,367.7 354.3,358.0" fill="#ab22ee"/>
<polygon points="375.6,355.9 385.3,365.6 375.6,375.3 365.9,365.6" fill="#ab22ee"/>
<polygon points="389.4,337.4 399.1,347.1 389.4,356.8 379.7,347.1" fill="#ab22ee"/>
<polygon points="401.0,332.8 410.7,342.5 401.0,352.2 391.3,342.5" fill="#ab22ee"/>
<polygon points="410.3,344.4 420.0,354.1 410.3,363.8 400.6,354.1" fill="#ab22ee"/>
<polygon points="421.8,353.6 431.5,363.3 421.8,373.0 412.1,363.3" fill="#ab22ee"/>
<polygon points="433.4,358.2 443.1,367.9 433.4,377.6 423.7,367.9" fill="#ab22ee"/>
<polygon points="447.3,339.7 457.0,349.4 447.3,359.1 437.6,349.4" fill="#ab22ee"/>
<polygon points="458.8,346.7 468.5,356.4 458.8,366.1 449.1,356.4" fill="#ab22ee"/>
<polygon points="470.4,355.9 480.1,365.6 470.4,375.3 460.7,365.6" fill="#ab22ee"/>
<polygon points="482.0,362.9 491.7,372.6 482.0,382.3 472.3,372.6" fill="#ab22ee"/>
<polygon points="493.5,353.6 503.2,363.3 493.5,373.0 483.8,363.3" fill="#ab22ee"/>
<polygon points="502.8,346.7 512.5,356.4 502.8,366.1 493.1,356.4" fill="#ab22ee"/>
<polygon points="514.3,367.5 524.0,377.2 514.3,386.9 504.6,377.2" fill="#ab22ee"/>
<polygon points="525.9,392.9 535.6,402.6 525.9,412.3 516.2,402.6" fill="#ab22ee"/>
<polygon points="535.1,349.0 544.8,358.7 535.1,368.4 525.4,358.7" fill="#ab22ee"/>
<polygon points="544.4,379.1 554.1,388.8 544.4,398.5 534.7,388.8" fill="#ab22ee"/>
<polygon points="556.0,339.7 565.7,349.4 556.0,359.1 546.3,349.4" fill="#ab22ee"/>
<polygon points="565.2,346.7 574.9,356.4 565.2,366.1 555.5,356.4" fill="#ab22ee"/>
<polygon points="576.8,365.2 586.5,374.9 576.8,384.6 567.1,374.9" fill="#ab22ee"/>
<polygon points="586.0,372.1 595.7,381.8 586.0,391.5 576.3,381.8" fill="#ab22ee"/>
<polygon points="597.6,362.9 607.3,372.6 597.6,382.3 587.9,372.6" fill="#ab22ee"/>
<polygon points="609.1,390.6 618.8,400.3 609.1,410.0 599.4,400.3" fill="#ab22ee"/>
<polygon points="618.4,372.1 628.1,381.8 618.4,391.5 608.7,381.8" fill="#ab22ee"/>
<polygon points="630.0,372.1 639.7,381.8 630.0,391.5 620.3,381.8" fill="#ab22ee"/>
<polygon points="146.8,539.3 166.8,539.3 156.8,520.3" fill="#17bf17"/>
<polygon points="152.2,532.4 172.2,532.4 162.2,513.4" fill="#17bf17"/>
<polygon points="157.5,541.4 177.5,541.4 167.5,522.4" fill="#17bf17"/>
<polygon points="162.9,541.4 182.9,541.4 172.9,522.4" fill="#17bf17"/>
<polygon points="168.2,540.1 188.2,540.1 178.2,521.1" fill="#17bf17"/>
<polygon points="173.6,535.5 193.6,535.5 183.6,516.5" fill="#17bf17"/>
<polygon points="179.0,536.3 199.0,536.3 189.0,517.3" fill="#17bf17"/>
<polygon points="184.3,545.7 204.3,545.7 194.3,526.7" fill="#17bf17"/>
<polygon points="189.7,547.8 209.7,547.8 199.7,528.8" fill="#17bf17"/>
<polygon points="195.0,548.9 215.0,548.9 205.0,529.9" fill="#17bf17"/>
<polygon points="200.4,540.9 220.4,540.9 210.4,521.9" fill="#17bf17"/>
<polygon points="205.8,541.8 225.8,541.8 215.8,522.8" fill="#17bf17"/>
<polygon points="211.1,540.3 231.1,540.3 221.1,521.3" fill="#17bf17"/>
<polygon points="216.5,538.4 236.5,538.4 226.5,519.4" fill="#17bf17"/>
<polygon points="221.8,542.2 241.8,542.2 231.8,523.2" fill="#17bf17"/>
<polygon points="227.2,551.9 247.2,551.9 237.2,532.9" fill="#17bf17"/>
<polygon points="232.6,548.3 252.6,548.3 242.6,529.3" fill="#17bf17"/>
<polygon points="237.9,533.3 257.9,533.3 247.9,514.3" fill="#17bf17"/>
<polygon points="243.3,537.9 263.3,537.9 253.3,518.9" fill="#17bf17"/>
<polygon points="248.6,541.7 268.6,541.7 258.6,522.7" fill="#17bf17"/>
<polygon points="254.0,533.6 274.0,533.6 264.0,514.6" fill="#17bf17"/>
<polygon points="259.4,541.2 279.4,541.2 269.4,522.2" fill="#17bf17"/>
<polygon points="264.7,545.7 284.7,545.7 274.7,526.7" fill="#17bf17"/>
<polygon points="270.1,540.1 290.1,540.1 280.1,521.1" fill="#17bf17"/>
<polygon points="275.4,551.0 295.4,551.0 285.4,532.0" fill="#17bf17"/>
<polygon points="280.8,546.4 300.8,546.4 290.8,527.4" fill="#17bf17"/>
<polygon points="286.2,528.5 306.2,528.5 296.2,509.5" fill="#17bf17"/>
<polygon points="291.5,554.3 311.5,554.3 301.5,535.3" fill="#17bf17"/>
<polygon points="296.9,529.9 316.9,529.9 306.9,510.9" fill="#17bf17"/>
<polygon points="302.2,551.7 322.2,551.7 312.2,532.7" fill="#17bf17"/>
<polygon points="305.4,351.0 325.4,351.0 315.4,332.0" fill="#17bf17"/>
<polygon points="317.0,357.9 337.0,357.9 327.0,338.9" fill="#17bf17"/>
<polygon points="328.6,360.3 348.6,360.3 338.6,341.3" fill="#17bf17"/>
<polygon points="340.0,364.5 360.0,364.5 350.0,345.5" fill="#17bf17"/>
<polygon points="351.7,371.8 371.7,371.8 361.7,352.8" fill="#17bf17"/>
<polygon points="361.0,388.0 381.0,388.0 371.0,369.0" fill="#17bf17"/>
<polygon points="370.2,357.9 390.2,357.9 380.2,338.9" fill="#17bf17"/>
<polygon points="381.8,376.5 401.8,376.5 391.8,357.5" fill="#17bf17"/>
<polygon points="393.3,392.6 413.3,392.6 403.3,373.6" fill="#17bf17"/>
<polygon points="404.9,425.0 424.9,425.0 414.9,406.0" fill="#17bf17"/>
<polygon points="416.4,404.2 436.4,404.2 426.4,385.2" fill="#17bf17"/>
<polygon points="425.7,415.8 445.7,415.8 435.7,396.8" fill="#17bf17"/>
<polygon points="437.3,399.6 457.3,399.6 447.3,380.6" fill="#17bf17"/>
<polygon points="446.5,394.9 466.5,394.9 456.5,375.9" fill="#17bf17"/>
<polygon points="458.0,425.0 478.0,425.0 468.0,406.0" fill="#17bf17"/>
<polygon points="467.3,411.1 487.3,411.1 477.3,392.1" fill="#17bf17"/>
<polygon points="478.9,429.6 498.9,429.6 488.9,410.6" fill="#17bf17"/>
<polygon points="490.5,404.2 510.5,404.2 500.5,385.2" fill="#17bf17"/>
<polygon points="500.9,432.0 520.9,432.0 510.9,413.0" fill="#17bf17"/>
<polygon points="511.3,415.8 531.3,415.8 521.3,396.8" fill="#17bf17"/>
<polygon points="521.7,441.2 541.7,441.2 531.7,422.2" fill="#17bf17"/>
<polygon points="532.1,462.0 552.1,462.0 542.1,443.0" fill="#17bf17"/>
<polygon points="543.6,482.8 563.6,482.8 553.6,463.8" fill="#17bf17"/>
<polygon points="555.2,459.7 575.2,459.7 565.2,440.7" fill="#17bf17"/>
<polygon points="564.5,457.4 584.5,457.4 574.5,438.4" fill="#17bf17"/>
<polygon points="576.0,471.3 596.0,471.3 586.0,452.3" fill="#17bf17"/>
<polygon points="587.6,448.1 607.6,448.1 597.6,429.1" fill="#17bf17"/>
<polygon points="596.8,462.0 616.8,462.0 606.8,443.0" fill="#17bf17"/>
<polygon points="607.2,475.9 627.2,475.9 617.2,456.9" fill="#17bf17"/>
<polygon points="618.8,457.4 638.8,457.4 628.8,438.4" fill="#17bf17"/>
<polygon points="629.2,459.7 649.2,459.7 639.2,440.7" fill="#17bf17"/>
<rect x="149.3" y="517.4" width="15" height="15" fill="#ee1212"/>
<rect x="154.7" y="517.3" width="15" height="15" fill="#ee1212"/>
<rect x="160.0" y="511.2" width="15" height="15" fill="#ee1212"/>
<rect x="165.4" y="523.9" width="15" height="15" fill="#ee1212"/>
<rect x="170.7" y="502.3" width="15" height="15" fill="#ee1212"/>
<rect x="176.1" y="513.4" width="15" height="15" fill="#ee1212"/>
<rect x="181.5" y="514.8" width="15" height="15" fill="#ee1212"/>
<rect x="186.8" y="509.5" width="15" height="15" fill="#ee1212"/>
<rect x="192.2" y="506.2" width="15" height="15" fill="#ee1212"/>
<rect x="197.5" y="510.0" width="15" height="15" fill="#ee1212"/>
<rect x="202.9" y="510.0" width="15" height="15" fill="#ee1212"/>
<rect x="208.3" y="513.9" width="15" height="15" fill="#ee1212"/>
<rect x="213.6" y="512.7" width="15" height="15" fill="#ee1212"/>
<rect x="219.0" y="512.5" width="15" height="15" fill="#ee1212"/>
<rect x="224.3" y="509.3" width="15" height="15" fill="#ee1212"/>
<rect x="229.7" y="506.4" width="15" height="15" fill="#ee1212"/>
<rect x="235.1" y="514.1" width="15" height="15" fill="#ee1212"/>
<rect x="240.4" y="495.6" width="15" height="15" fill="#ee1212"/>
<rect x="245.8" y="506.4" width="15" height="15" fill="#ee1212"/>
<rect x="251.1" y="496.7" width="15" height="15" fill="#ee1212"/>
<rect x="256.5" y="506.4" width="15" height="15" fill="#ee1212"/>
<rect x="261.9" y="513.5" width="15" height="15" fill="#ee1212"/>
<rect x="267.2" y="509.1" width="15" height="15" fill="#ee1212"/>
<rect x="272.6" y="508.6" width="15" height="15" fill="#ee1212"/>
<rect x="277.9" y="501.4" width="15" height="15" fill="#ee1212"/>
<rect x="283.3" y="510.2" width="15" height="15" fill="#ee1212"/>
<rect x="288.7" y="507.5" width="15" height="15" fill="#ee1212"/>
<rect x="294.0" y="516.6" width="15" height="15" fill="#ee1212"/>
<rect x="299.4" y="511.0" width="15" height="15" fill="#ee1212"/>
<rect x="304.7" y="512.4" width="15" height="15" fill="#ee1212"/>
<rect x="307.5" y="302.5" width="15" height="15" fill="#ee1212"/>
<rect x="318.5" y="298.5" width="15" height="15" fill="#ee1212"/>
<rect x="329.5" y="314.5" width="15" height="15" fill="#ee1212"/>
<rect x="340.5" y="305.5" width="15" height="15" fill="#ee1212"/>
<rect x="351.5" y="312.5" width="15" height="15" fill="#ee1212"/>
<rect x="362.5" y="314.5" width="15" height="15" fill="#ee1212"/>
<rect x="373.5" y="309.5" width="15" height="15" fill="#ee1212"/>
<rect x="384.5" y="307.5" width="15" height="15" fill="#ee1212"/>
<rect x="395.5" y="330.5" width="15" height="15" fill="#ee1212"/>
<rect x="406.5" y="318.5" width="15" height="15" fill="#ee1212"/>
<rect x="417.5" y="318.5" width="15" height="15" fill="#ee1212"/>
<rect x="428.5" y="316.5" width="15" height="15" fill="#ee1212"/>
<rect x="439.5" y="314.5" width="15" height="15" fill="#ee1212"/>
<rect x="450.5" y="328.5" width="15" height="15" fill="#ee1212"/>
<rect x="461.5" y="318.5" width="15" height="15" fill="#ee1212"/>
<rect x="472.5" y="328.5" width="15" height="15" fill="#ee1212"/>
<rect x="483.5" y="317.5" width="15" height="15" fill="#ee1212"/>
<rect x="494.5" y="311.5" width="15" height="15" fill="#ee1212"/>
<rect x="505.5" y="309.5" width="15" height="15" fill="#ee1212"/>
<rect x="516.5" y="311.5" width="15" height="15" fill="#ee1212"/>
<rect x="526.5" y="322.5" width="15" height="15" fill="#ee1212"/>
<rect x="534.5" y="338.5" width="15" height="15" fill="#ee1212"/>
<rect x="542.5" y="312.5" width="15" height="15" fill="#ee1212"/>
<rect x="553.5" y="311.5" width="15" height="15" fill="#ee1212"/>
<rect x="564.5" y="313.5" width="15" height="15" fill="#ee1212"/>
<rect x="575.5" y="313.5" width="15" height="15" fill="#ee1212"/>
<rect x="586.5" y="313.5" width="15" height="15" fill="#ee1212"/>
<rect x="597.5" y="316.5" width="15" height="15" fill="#ee1212"/>
<rect x="608.5" y="328.5" width="15" height="15" fill="#ee1212"/>
<rect x="620.5" y="316.5" width="15" height="15" fill="#ee1212"/>
<rect x="631.5" y="323.5" width="15" height="15" fill="#ee1212"/>
<circle cx="156.8" cy="522.1" r="10.2" fill="#1212ec"/>
<circle cx="162.2" cy="530.3" r="10.2" fill="#1212ec"/>
<circle cx="167.5" cy="518.6" r="10.2" fill="#1212ec"/>
<circle cx="172.9" cy="523.9" r="10.2" fill="#1212ec"/>
<circle cx="178.2" cy="528.2" r="10.2" fill="#1212ec"/>
<circle cx="183.6" cy="519.5" r="10.2" fill="#1212ec"/>
<circle cx="189.0" cy="524.3" r="10.2" fill="#1212ec"/>
<circle cx="194.3" cy="527.6" r="10.2" fill="#1212ec"/>
<circle cx="199.7" cy="522.3" r="10.2" fill="#1212ec"/>
<circle cx="205.0" cy="519.6" r="10.2" fill="#1212ec"/>
<circle cx="210.4" cy="522.1" r="10.2" fill="#1212ec"/>
<circle cx="215.8" cy="529.0" r="10.2" fill="#1212ec"/>
<circle cx="221.1" cy="518.5" r="10.2" fill="#1212ec"/>
<circle cx="226.5" cy="520.3" r="10.2" fill="#1212ec"/>
<circle cx="231.8" cy="521.9" r="10.2" fill="#1212ec"/>
<circle cx="237.2" cy="522.5" r="10.2" fill="#1212ec"/>
<circle cx="242.6" cy="519.3" r="10.2" fill="#1212ec"/>
<circle cx="247.9" cy="525.3" r="10.2" fill="#1212ec"/>
<circle cx="253.3" cy="529.2" r="10.2" fill="#1212ec"/>
<circle cx="258.6" cy="517.5" r="10.2" fill="#1212ec"/>
<circle cx="264.0" cy="527.3" r="10.2" fill="#1212ec"/>
<circle cx="269.4" cy="528.2" r="10.2" fill="#1212ec"/>
<circle cx="274.7" cy="520.5" r="10.2" fill="#1212ec"/>
<circle cx="280.1" cy="523.3" r="10.2" fill="#1212ec"/>
<circle cx="285.4" cy="525.2" r="10.2" fill="#1212ec"/>
<circle cx="290.8" cy="524.7" r="10.2" fill="#1212ec"/>
<circle cx="296.2" cy="519.9" r="10.2" fill="#1212ec"/>
<circle cx="301.5" cy="520.3" r="10.2" fill="#1212ec"/>
<circle cx="306.9" cy="525.8" r="10.2" fill="#1212ec"/>
<circle cx="312.2" cy="523.7" r="10.2" fill="#1212ec"/>
<circle cx="315.0" cy="319.0" r="10.2" fill="#1212ec"/>
<circle cx="326.0" cy="302.0" r="10.2" fill="#1212ec"/>
<circle cx="346.0" cy="285.0" r="10.2" fill="#1212ec"/>
<circle cx="357.0" cy="298.0" r="10.2" fill="#1212ec"/>
<circle cx="378.0" cy="285.0" r="10.2" fill="#1212ec"/>
<circle cx="389.0" cy="301.0" r="10.2" fill="#1212ec"/>
<circle cx="399.0" cy="280.0" r="10.2" fill="#1212ec"/>
<circle cx="410.0" cy="307.0" r="10.2" fill="#1212ec"/>
<circle cx="421.0" cy="305.0" r="10.2" fill="#1212ec"/>
<circle cx="432.0" cy="310.0" r="10.2" fill="#1212ec"/>
<circle cx="446.0" cy="308.0" r="10.2" fill="#1212ec"/>
<circle cx="464.0" cy="290.0" r="10.2" fill="#1212ec"/>
<circle cx="475.0" cy="294.0" r="10.2" fill="#1212ec"/>
<circle cx="487.0" cy="310.0" r="10.2" fill="#1212ec"/>
<circle cx="498.0" cy="328.0" r="10.2" fill="#1212ec"/>
<circle cx="509.0" cy="320.0" r="10.2" fill="#1212ec"/>
<circle cx="519.0" cy="303.0" r="10.2" fill="#1212ec"/>
<circle cx="530.0" cy="318.0" r="10.2" fill="#1212ec"/>
<circle cx="537.0" cy="305.0" r="10.2" fill="#1212ec"/>
<circle cx="549.0" cy="283.0" r="10.2" fill="#1212ec"/>
<circle cx="558.0" cy="290.0" r="10.2" fill="#1212ec"/>
<circle cx="570.0" cy="297.0" r="10.2" fill="#1212ec"/>
<circle cx="579.0" cy="294.0" r="10.2" fill="#1212ec"/>
<circle cx="590.0" cy="292.0" r="10.2" fill="#1212ec"/>
<circle cx="601.0" cy="300.0" r="10.2" fill="#1212ec"/>
<circle cx="612.0" cy="315.0" r="10.2" fill="#1212ec"/>
<circle cx="623.0" cy="329.0" r="10.2" fill="#1212ec"/>
<circle cx="634.0" cy="302.0" r="10.2" fill="#1212ec"/>
<path d="M156.8,516.6 V527.5 M148.8,516.6 H164.8 M148.8,527.5 H164.8" stroke="#1212ec" stroke-width="2.8" fill="none"/>
<path d="M162.2,525.5 V535.1 M154.2,525.5 H170.2 M154.2,535.1 H170.2" stroke="#1212ec" stroke-width="2.8" fill="none"/>
<path d="M167.5,513.2 V524.0 M159.5,513.2 H175.5 M159.5,524.0 H175.5" stroke="#1212ec" stroke-width="2.8" fill="none"/>
<path d="M172.9,517.6 V530.1 M164.9,517.6 H180.9 M164.9,530.1 H180.9" stroke="#1212ec" stroke-width="2.8" fill="none"/>
<path d="M178.2,523.4 V533.0 M170.2,523.4 H186.2 M170.2,533.0 H186.2" stroke="#1212ec" stroke-width="2.8" fill="none"/>
<path d="M183.6,513.1 V525.9 M175.6,513.1 H191.6 M175.6,525.9 H191.6" stroke="#1212ec" stroke-width="2.8" fill="none"/>
<path d="M189.0,518.7 V530.0 M181.0,518.7 H197.0 M181.0,530.0 H197.0" stroke="#1212ec" stroke-width="2.8" fill="none"/>
<path d="M194.3,521.5 V533.6 M186.3,521.5 H202.3 M186.3,533.6 H202.3" stroke="#1212ec" stroke-width="2.8" fill="none"/>
<path d="M199.7,515.9 V528.7 M191.7,515.9 H207.7 M191.7,528.7 H207.7" stroke="#1212ec" stroke-width="2.8" fill="none"/>
<path d="M205.0,514.8 V524.4 M197.0,514.8 H213.0 M197.0,524.4 H213.0" stroke="#1212ec" stroke-width="2.8" fill="none"/>
<path d="M210.4,515.5 V528.6 M202.4,515.5 H218.4 M202.4,528.6 H218.4" stroke="#1212ec" stroke-width="2.8" fill="none"/>
<path d="M215.8,524.0 V534.0 M207.8,524.0 H223.8 M207.8,534.0 H223.8" stroke="#1212ec" stroke-width="2.8" fill="none"/>
<path d="M221.1,512.1 V524.9 M213.1,512.1 H229.1 M213.1,524.9 H229.1" stroke="#1212ec" stroke-width="2.8" fill="none"/>
<path d="M226.5,515.0 V525.6 M218.5,515.0 H234.5 M218.5,525.6 H234.5" stroke="#1212ec" stroke-width="2.8" fill="none"/>
<path d="M231.8,516.0 V527.8 M223.8,516.0 H239.8 M223.8,527.8 H239.8" stroke="#1212ec" stroke-width="2.8" fill="none"/>
<path d="M237.2,517.7 V527.4 M229.2,517.7 H245.2 M229.2,527.4 H245.2" stroke="#1212ec" stroke-width="2.8" fill="none"/>
<path d="M242.6,514.7 V523.9 M234.6,514.7 H250.6 M234.6,523.9 H250.6" stroke="#1212ec" stroke-width="2.8" fill="none"/>
<path d="M247.9,519.3 V531.3 M239.9,519.3 H255.9 M239.9,531.3 H255.9" stroke="#1212ec" stroke-width="2.8" fill="none"/>
<path d="M253.3,522.5 V535.9 M245.3,522.5 H261.3 M245.3,535.9 H261.3" stroke="#1212ec" stroke-width="2.8" fill="none"/>
<path d="M258.6,511.9 V523.0 M250.6,511.9 H266.6 M250.6,523.0 H266.6" stroke="#1212ec" stroke-width="2.8" fill="none"/>
<path d="M264.0,520.9 V533.7 M256.0,520.9 H272.0 M256.0,533.7 H272.0" stroke="#1212ec" stroke-width="2.8" fill="none"/>
<path d="M269.4,521.3 V535.2 M261.4,521.3 H277.4 M261.4,535.2 H277.4" stroke="#1212ec" stroke-width="2.8" fill="none"/>
<path d="M274.7,514.7 V526.3 M266.7,514.7 H282.7 M266.7,526.3 H282.7" stroke="#1212ec" stroke-width="2.8" fill="none"/>
<path d="M280.1,518.4 V528.2 M272.1,518.4 H288.1 M272.1,528.2 H288.1" stroke="#1212ec" stroke-width="2.8" fill="none"/>
<path d="M285.4,518.5 V531.8 M277.4,518.5 H293.4 M277.4,531.8 H293.4" stroke="#1212ec" stroke-width="2.8" fill="none"/>
<path d="M290.8,519.1 V530.3 M282.8,519.1 H298.8 M282.8,530.3 H298.8" stroke="#1212ec" stroke-width="2.8" fill="none"/>
<path d="M296.2,515.0 V524.9 M288.2,515.0 H304.2 M288.2,524.9 H304.2" stroke="#1212ec" stroke-width="2.8" fill="none"/>
<path d="M301.5,515.7 V524.9 M293.5,515.7 H309.5 M293.5,524.9 H309.5" stroke="#1212ec" stroke-width="2.8" fill="none"/>
<path d="M306.9,521.2 V530.4 M298.9,521.2 H314.9 M298.9,530.4 H314.9" stroke="#1212ec" stroke-width="2.8" fill="none"/>
<path d="M312.2,517.1 V530.3 M304.2,517.1 H320.2 M304.2,530.3 H320.2" stroke="#1212ec" stroke-width="2.8" fill="none"/>
<path d="M315.0,307.0 V331.0 M307.0,307.0 H323.0 M307.0,331.0 H323.0" stroke="#1212ec" stroke-width="2.8" fill="none"/>
<path d="M326.0,287.0 V317.0 M318.0,287.0 H334.0 M318.0,317.0 H334.0" stroke="#1212ec" stroke-width="2.8" fill="none"/>
<path d="M346.0,267.0 V303.0 M338.0,267.0 H354.0 M338.0,303.0 H354.0" stroke="#1212ec" stroke-width="2.8" fill="none"/>
<path d="M357.0,286.0 V310.0 M349.0,286.0 H365.0 M349.0,310.0 H365.0" stroke="#1212ec" stroke-width="2.8" fill="none"/>
<path d="M378.0,261.0 V309.0 M370.0,261.0 H386.0 M370.0,309.0 H386.0" stroke="#1212ec" stroke-width="2.8" fill="none"/>
<path d="M389.0,289.0 V313.0 M381.0,289.0 H397.0 M381.0,313.0 H397.0" stroke="#1212ec" stroke-width="2.8" fill="none"/>
<path d="M399.0,259.0 V301.0 M391.0,259.0 H407.0 M391.0,301.0 H407.0" stroke="#1212ec" stroke-width="2.8" fill="none"/>
<path d="M410.0,295.0 V319.0 M402.0,295.0 H418.0 M402.0,319.0 H418.0" stroke="#1212ec" stroke-width="2.8" fill="none"/>
<path d="M421.0,293.0 V317.0 M413.0,293.0 H429.0 M413.0,317.0 H429.0" stroke="#1212ec" stroke-width="2.8" fill="none"/>
<path d="M432.0,300.0 V320.0 M424.0,300.0 H440.0 M424.0,320.0 H440.0" stroke="#1212ec" stroke-width="2.8" fill="none"/>
<path d="M446.0,296.0 V320.0 M438.0,296.0 H454.0 M438.0,320.0 H454.0" stroke="#1212ec" stroke-width="2.8" fill="none"/>
<path d="M464.0,272.0 V308.0 M456.0,272.0 H472.0 M456.0,308.0 H472.0" stroke="#1212ec" stroke-width="2.8" fill="none"/>
<path d="M475.0,282.0 V306.0 M467.0,282.0 H483.0 M467.0,306.0 H483.0" stroke="#1212ec" stroke-width="2.8" fill="none"/>
<path d="M487.0,298.0 V322.0 M479.0,298.0 H495.0 M479.0,322.0 H495.0" stroke="#1212ec" stroke-width="2.8" fill="none"/>
<path d="M498.0,316.0 V340.0 M490.0,316.0 H506.0 M490.0,340.0 H506.0" stroke="#1212ec" stroke-width="2.8" fill="none"/>
<path d="M509.0,310.0 V330.0 M501.0,310.0 H517.0 M501.0,330.0 H517.0" stroke="#1212ec" stroke-width="2.8" fill="none"/>
<path d="M519.0,291.0 V315.0 M511.0,291.0 H527.0 M511.0,315.0 H527.0" stroke="#1212ec" stroke-width="2.8" fill="none"/>
<path d="M530.0,308.0 V328.0 M522.0,308.0 H538.0 M522.0,328.0 H538.0" stroke="#1212ec" stroke-width="2.8" fill="none"/>
<path d="M537.0,293.0 V317.0 M529.0,293.0 H545.0 M529.0,317.0 H545.0" stroke="#1212ec" stroke-width="2.8" fill="none"/>
<path d="M549.0,271.0 V295.0 M541.0,271.0 H557.0 M541.0,295.0 H557.0" stroke="#1212ec" stroke-width="2.8" fill="none"/>
<path d="M558.0,278.0 V302.0 M550.0,278.0 H566.0 M550.0,302.0 H566.0" stroke="#1212ec" stroke-width="2.8" fill="none"/>
<path d="M570.0,285.0 V309.0 M562.0,285.0 H578.0 M562.0,309.0 H578.0" stroke="#1212ec" stroke-width="2.8" fill="none"/>
<path d="M579.0,284.0 V304.0 M571.0,284.0 H587.0 M571.0,304.0 H587.0" stroke="#1212ec" stroke-width="2.8" fill="none"/>
<path d="M590.0,280.0 V304.0 M582.0,280.0 H598.0 M582.0,304.0 H598.0" stroke="#1212ec" stroke-width="2.8" fill="none"/>
<path d="M601.0,290.0 V310.0 M593.0,290.0 H609.0 M593.0,310.0 H609.0" stroke="#1212ec" stroke-width="2.8" fill="none"/>
<path d="M612.0,303.0 V327.0 M604.0,303.0 H620.0 M604.0,327.0 H620.0" stroke="#1212ec" stroke-width="2.8" fill="none"/>
<path d="M623.0,317.0 V341.0 M615.0,317.0 H631.0 M615.0,341.0 H631.0" stroke="#1212ec" stroke-width="2.8" fill="none"/>
<path d="M634.0,292.0 V312.0 M626.0,292.0 H642.0 M626.0,312.0 H642.0" stroke="#1212ec" stroke-width="2.8" fill="none"/>
<circle cx="439.7" cy="181.6" r="10.3" fill="#1212ec"/>
<text x="473.63" y="195.80" font-family="'Liberation Serif', 'Times New Roman', serif" font-weight="bold" font-size="35.28" textLength="134.37" lengthAdjust="spacingAndGlyphs" fill="#000">WT+PBS</text>
<rect x="432.00" y="224.10" width="15.00" height="14.90" fill="#ee1212"/>
<text x="473.62" y="245.20" font-family="'Liberation Serif', 'Times New Roman', serif" font-weight="bold" font-size="34.21" textLength="193.75" lengthAdjust="spacingAndGlyphs" fill="#000">WT+DA4-JC</text>
<polygon points="360.1,550 379.8,550 369.95,530.9" fill="#17bf17"/>
<text x="402.83" y="553.30" font-family="'Liberation Serif', 'Times New Roman', serif" font-weight="bold" font-size="34.21" textLength="214.71" lengthAdjust="spacingAndGlyphs" fill="#000">3xTg-AD+PBS</text>
<polygon points="369.8,580.5 379.5,590.2 369.8,599.9 360.1,590.2" fill="#ab22ee"/>
<text x="402.82" y="603.10" font-family="'Liberation Serif', 'Times New Roman', serif" font-weight="bold" font-size="32.68" textLength="273.38" lengthAdjust="spacingAndGlyphs" fill="#000">3xTg-AD+DA4-JC</text>
<polygon points="310.5,356.2 325.2,391.9 296.2,391.9" fill="#000"/>
<rect x="307.00" y="390.00" width="7.50" height="38.50" fill="#000"/>
<text x="286.53" y="467.50" font-family="'Liberation Serif', 'Times New Roman', serif" font-weight="bold" font-size="34.67" textLength="64.37" lengthAdjust="spacingAndGlyphs" fill="#000">HFS</text>
<line x1="961.50" y1="192.50" x2="961.50" y2="238.40" stroke="#000" stroke-width="3.6" stroke-linecap="butt"/>
<line x1="959.80" y1="236.40" x2="1026.20" y2="236.40" stroke="#000" stroke-width="3.9" stroke-linecap="butt"/>
<text transform="translate(946.60,239.80) rotate(-90)" x="-2.34" y="0" font-family="'Liberation Serif', 'Times New Roman', serif" font-weight="bold" font-size="27.50" textLength="60.84" lengthAdjust="spacingAndGlyphs" fill="#000">1 mv</text>
<text x="957.04" y="266.00" font-family="'Liberation Serif', 'Times New Roman', serif" font-weight="bold" font-size="28.00" textLength="73.99" lengthAdjust="spacingAndGlyphs" fill="#000">20 ms</text>
<path d="M1051.5,238.6 C1053.7,238.7 1060.3,238.8 1064.4,239.4 C1068.5,240.0 1074.2,241.7 1076.2,242.2 L1077.3,115.2 L1078.6,241.0 C1079.1,241.4 1080.4,242.1 1081.5,243.5 C1082.6,244.9 1084.0,247.5 1085.2,249.5 C1086.5,251.5 1087.8,254.2 1089.0,255.5 C1090.2,256.8 1091.0,257.6 1092.3,257.4 C1093.5,257.1 1094.9,256.3 1096.5,254.0 C1098.1,251.7 1099.8,246.6 1101.7,243.5 C1103.7,240.4 1105.5,238.0 1108.2,235.6 C1110.9,233.2 1114.2,230.7 1118.0,229.2 C1121.8,227.7 1126.7,226.6 1131.0,226.4 C1135.3,226.2 1139.7,227.6 1144.0,228.2 C1148.3,228.8 1152.7,229.9 1157.0,230.2 C1161.3,230.5 1165.7,230.1 1170.0,229.8 C1174.3,229.5 1178.7,228.6 1183.0,228.2 C1187.3,227.8 1191.6,227.3 1196.0,227.4 C1200.4,227.5 1207.2,228.6 1209.5,228.8 L1210.9,101 L1212.2,228.3 C1212.8,229.2 1214.5,231.6 1215.5,234.0 C1216.5,236.4 1217.2,239.2 1218.3,242.5 C1219.4,245.8 1220.6,251.1 1222.0,254.1 C1223.4,257.1 1225.1,260.3 1226.9,260.6 C1228.7,260.9 1230.4,258.8 1232.6,255.7 C1234.8,252.6 1237.1,246.4 1239.9,242.0 C1242.7,237.6 1246.6,232.0 1249.6,229.2 C1252.6,226.3 1254.7,226.4 1257.7,224.9 C1260.7,223.4 1264.8,220.9 1267.5,220.2 C1270.2,219.5 1271.0,220.2 1274.0,220.9 C1277.0,221.6 1283.5,223.9 1285.4,224.5" fill="none" stroke="#000" stroke-width="3.6" stroke-linejoin="round" stroke-linecap="round"/>
<rect x="1326.10" y="254.60" width="46.40" height="15.10" fill="#000"/>
<text x="1400.39" y="274.40" font-family="'Liberation Serif', 'Times New Roman', serif" font-weight="bold" font-size="30.24" textLength="54.78" lengthAdjust="spacingAndGlyphs" fill="#000">PBS</text>
<rect x="1326.10" y="301.90" width="46.40" height="14.50" fill="#a0a0a4"/>
<text x="1400.36" y="321.60" font-family="'Liberation Serif', 'Times New Roman', serif" font-weight="bold" font-size="30.70" textLength="108.40" lengthAdjust="spacingAndGlyphs" fill="#000">DA4-JC</text>
<rect x="967.00" y="348.00" width="54.75" height="344.00" fill="#000"/>
<line x1="994.38" y1="349.00" x2="994.38" y2="331.25" stroke="#000" stroke-width="4.8" stroke-linecap="butt"/>
<rect x="980.75" y="328.75" width="27.25" height="5.00" fill="#000"/>
<rect x="1049.50" y="353.75" width="54.75" height="338.25" fill="#a0a0a4"/>
<line x1="1077.00" y1="354.75" x2="1077.00" y2="342.75" stroke="#000" stroke-width="4.8" stroke-linecap="butt"/>
<rect x="1063.25" y="340.50" width="27.50" height="4.50" fill="#000"/>
<rect x="1187.00" y="340.50" width="55.00" height="351.50" fill="#000"/>
<line x1="1214.75" y1="341.50" x2="1214.75" y2="334.75" stroke="#000" stroke-width="4.8" stroke-linecap="butt"/>
<rect x="1201.25" y="332.50" width="27.00" height="4.50" fill="#000"/>
<rect x="1270.00" y="349.50" width="54.50" height="342.50" fill="#a0a0a4"/>
<line x1="1297.25" y1="350.50" x2="1297.25" y2="332.88" stroke="#000" stroke-width="4.8" stroke-linecap="butt"/>
<rect x="1283.75" y="330.75" width="27.00" height="4.25" fill="#000"/>
<line x1="926.00" y1="286.90" x2="926.00" y2="694.40" stroke="#000" stroke-width="4.4" stroke-linecap="butt"/>
<line x1="913.75" y1="692.00" x2="1368.40" y2="692.00" stroke="#000" stroke-width="4.7" stroke-linecap="butt"/>
<line x1="913.75" y1="289.00" x2="926.00" y2="289.00" stroke="#000" stroke-width="4.4" stroke-linecap="butt"/>
<line x1="913.75" y1="389.70" x2="926.00" y2="389.70" stroke="#000" stroke-width="4.4" stroke-linecap="butt"/>
<line x1="913.75" y1="490.40" x2="926.00" y2="490.40" stroke="#000" stroke-width="4.4" stroke-linecap="butt"/>
<line x1="913.75" y1="591.10" x2="926.00" y2="591.10" stroke="#000" stroke-width="4.4" stroke-linecap="butt"/>
<line x1="1035.00" y1="692.00" x2="1035.00" y2="704.00" stroke="#000" stroke-width="4.5" stroke-linecap="butt"/>
<line x1="1255.60" y1="692.00" x2="1255.60" y2="704.00" stroke="#000" stroke-width="4.5" stroke-linecap="butt"/>
<text x="862.46" y="297.50" font-family="'Liberation Serif', 'Times New Roman', serif" font-weight="bold" font-size="30.00" textLength="46.22" lengthAdjust="spacingAndGlyphs" fill="#000">200</text>
<text x="862.54" y="398.20" font-family="'Liberation Serif', 'Times New Roman', serif" font-weight="bold" font-size="30.00" textLength="46.13" lengthAdjust="spacingAndGlyphs" fill="#000">150</text>
<text x="861.70" y="498.90" font-family="'Liberation Serif', 'Times New Roman', serif" font-weight="bold" font-size="30.00" textLength="46.79" lengthAdjust="spacingAndGlyphs" fill="#000">100</text>
<text x="878.08" y="599.60" font-family="'Liberation Serif', 'Times New Roman', serif" font-weight="bold" font-size="30.00" textLength="30.37" lengthAdjust="spacingAndGlyphs" fill="#000">50</text>
<text x="892.74" y="700.30" font-family="'Liberation Serif', 'Times New Roman', serif" font-weight="bold" font-size="30.00" textLength="16.52" lengthAdjust="spacingAndGlyphs" fill="#000">0</text>
<text x="1011.79" y="736.00" font-family="'Liberation Serif', 'Times New Roman', serif" font-weight="bold" font-size="30.54" textLength="48.66" lengthAdjust="spacingAndGlyphs" fill="#000">WT</text>
<text x="1194.84" y="736.10" font-family="'Liberation Serif', 'Times New Roman', serif" font-weight="bold" font-size="31.00" textLength="121.97" lengthAdjust="spacingAndGlyphs" fill="#000">3xTg-AD</text>
<text transform="translate(839.50,649.00) rotate(-90)" x="-0.27" y="0" font-family="'Liberation Serif', 'Times New Roman', serif" font-weight="bold" font-size="38.33" textLength="318.62" lengthAdjust="spacingAndGlyphs" fill="#000">fEPSP2/fEPSP1(%)</text>
<rect x="180.90" y="1224.40" width="57.85" height="139.60" fill="#000"/>
<line x1="209.95" y1="1225.40" x2="209.95" y2="1218.75" stroke="#000" stroke-width="4.8" stroke-linecap="butt"/>
<rect x="195.90" y="1216.25" width="28.10" height="5.00" fill="#000"/>
<rect x="269.00" y="1197.50" width="57.50" height="166.50" fill="#9a9a9a"/>
<line x1="297.62" y1="1198.50" x2="297.62" y2="1183.50" stroke="#000" stroke-width="4.8" stroke-linecap="butt"/>
<rect x="283.25" y="1181.25" width="28.75" height="4.50" fill="#000"/>
<rect x="414.60" y="1075.00" width="57.90" height="289.00" fill="#000"/>
<line x1="443.62" y1="1076.00" x2="443.62" y2="1048.00" stroke="#000" stroke-width="4.8" stroke-linecap="butt"/>
<rect x="429.25" y="1045.50" width="28.75" height="5.00" fill="#000"/>
<rect x="502.00" y="1173.25" width="58.00" height="190.75" fill="#9a9a9a"/>
<line x1="531.12" y1="1174.25" x2="531.12" y2="1141.50" stroke="#000" stroke-width="4.8" stroke-linecap="butt"/>
<rect x="516.75" y="1139.25" width="28.75" height="4.50" fill="#000"/>
<line x1="137.20" y1="936.00" x2="137.20" y2="1366.50" stroke="#000" stroke-width="5" stroke-linecap="butt"/>
<line x1="123.75" y1="1364.00" x2="606.00" y2="1364.00" stroke="#000" stroke-width="5" stroke-linecap="butt"/>
<line x1="124.70" y1="937.80" x2="137.20" y2="937.80" stroke="#000" stroke-width="4.6" stroke-linecap="butt"/>
<line x1="124.70" y1="1044.20" x2="137.20" y2="1044.20" stroke="#000" stroke-width="4.6" stroke-linecap="butt"/>
<line x1="124.70" y1="1150.60" x2="137.20" y2="1150.60" stroke="#000" stroke-width="4.6" stroke-linecap="butt"/>
<line x1="124.70" y1="1257.00" x2="137.20" y2="1257.00" stroke="#000" stroke-width="4.6" stroke-linecap="butt"/>
<line x1="124.70" y1="1363.40" x2="137.20" y2="1363.40" stroke="#000" stroke-width="4.6" stroke-linecap="butt"/>
<line x1="254.00" y1="1364.00" x2="254.00" y2="1378.00" stroke="#000" stroke-width="5" stroke-linecap="butt"/>
<line x1="487.00" y1="1364.00" x2="487.00" y2="1378.00" stroke="#000" stroke-width="5" stroke-linecap="butt"/>
<text x="62.49" y="946.70" font-family="'Liberation Serif', 'Times New Roman', serif" font-weight="bold" font-size="31.50" textLength="57.76" lengthAdjust="spacingAndGlyphs" fill="#000">0.20</text>
<text x="62.49" y="1053.10" font-family="'Liberation Serif', 'Times New Roman', serif" font-weight="bold" font-size="31.50" textLength="57.71" lengthAdjust="spacingAndGlyphs" fill="#000">0.15</text>
<text x="62.49" y="1159.50" font-family="'Liberation Serif', 'Times New Roman', serif" font-weight="bold" font-size="31.50" textLength="57.76" lengthAdjust="spacingAndGlyphs" fill="#000">0.10</text>
<text x="62.49" y="1265.90" font-family="'Liberation Serif', 'Times New Roman', serif" font-weight="bold" font-size="31.50" textLength="57.71" lengthAdjust="spacingAndGlyphs" fill="#000">0.05</text>
<text x="62.49" y="1372.30" font-family="'Liberation Serif', 'Times New Roman', serif" font-weight="bold" font-size="31.50" textLength="57.76" lengthAdjust="spacingAndGlyphs" fill="#000">0.00</text>
<text x="227.35" y="1412.50" font-family="'Liberation Serif', 'Times New Roman', serif" font-weight="bold" font-size="35.89" textLength="52.52" lengthAdjust="spacingAndGlyphs" fill="#000">WT</text>
<text x="421.75" y="1412.50" font-family="'Liberation Serif', 'Times New Roman', serif" font-weight="bold" font-size="35.89" textLength="131.12" lengthAdjust="spacingAndGlyphs" fill="#000">3xTg-AD</text>
<text transform="translate(44.80,1371.00) rotate(-90)" x="-0.38" y="0" font-family="'Liberation Serif', 'Times New Roman', serif" font-weight="bold" font-size="40.47" textLength="408.95" lengthAdjust="spacingAndGlyphs" fill="#000">Average area of syn (μm</text>
<text transform="translate(28.20,960.40) rotate(-90)" x="-1.31" y="0" font-family="'Liberation Serif', 'Times New Roman', serif" font-weight="bold" font-size="29.30" textLength="15.54" lengthAdjust="spacingAndGlyphs" fill="#000">2</text>
<text transform="translate(44.80,944.00) rotate(-90)" x="-1.30" y="0" font-family="'Liberation Serif', 'Times New Roman', serif" font-weight="bold" font-size="40.47" textLength="13.48" lengthAdjust="spacingAndGlyphs" fill="#000">)</text>
<path d="M209.80,1028.75 L209.80,1016.50 Q209.80,1012.50 213.80,1012.50 L432.00,1012.50 Q436.00,1012.50 436.00,1016.50 L436.00,1028.75" fill="none" stroke="#000" stroke-width="4.5"/>
<path d="M447.80,1028.75 L447.80,1016.50 Q447.80,1012.50 451.80,1012.50 L523.00,1012.50 Q527.00,1012.50 527.00,1016.50 L527.00,1028.75" fill="none" stroke="#000" stroke-width="4.5"/>
<text x="295.59" y="1010.00" font-family="'Liberation Serif', 'Times New Roman', serif" font-weight="bold" font-size="39.79" textLength="16.99" lengthAdjust="spacingAndGlyphs" fill="#000">*</text>
<text x="317.76" y="1010.00" font-family="'Liberation Serif', 'Times New Roman', serif" font-weight="bold" font-size="39.79" textLength="16.99" lengthAdjust="spacingAndGlyphs" fill="#000">*</text>
<text x="339.92" y="1010.00" font-family="'Liberation Serif', 'Times New Roman', serif" font-weight="bold" font-size="39.79" textLength="16.99" lengthAdjust="spacingAndGlyphs" fill="#000">*</text>
<text x="456.08" y="1010.00" font-family="'Liberation Serif', 'Times New Roman', serif" font-weight="bold" font-size="39.79" textLength="17.09" lengthAdjust="spacingAndGlyphs" fill="#000">*</text>
<text x="478.33" y="1010.00" font-family="'Liberation Serif', 'Times New Roman', serif" font-weight="bold" font-size="39.79" textLength="17.09" lengthAdjust="spacingAndGlyphs" fill="#000">*</text>
<text x="500.58" y="1010.00" font-family="'Liberation Serif', 'Times New Roman', serif" font-weight="bold" font-size="39.79" textLength="17.09" lengthAdjust="spacingAndGlyphs" fill="#000">*</text>
<rect x="561.10" y="902.75" width="50.10" height="16.25" fill="#000"/>
<text x="640.16" y="923.90" font-family="'Liberation Serif', 'Times New Roman', serif" font-weight="bold" font-size="32.22" textLength="57.98" lengthAdjust="spacingAndGlyphs" fill="#000">PBS</text>
<rect x="561.10" y="949.50" width="50.10" height="15.80" fill="#9a9a9a"/>
<text x="640.12" y="970.20" font-family="'Liberation Serif', 'Times New Roman', serif" font-weight="bold" font-size="32.38" textLength="114.88" lengthAdjust="spacingAndGlyphs" fill="#000">DA4-JC</text>
<rect x="1021.75" y="990.50" width="57.75" height="374.00" fill="#000"/>
<line x1="1050.62" y1="991.50" x2="1050.62" y2="974.12" stroke="#000" stroke-width="4.8" stroke-linecap="butt"/>
<rect x="1036.25" y="972.00" width="28.75" height="4.25" fill="#000"/>
<rect x="1109.25" y="1012.50" width="57.75" height="352.00" fill="#9a9a9a"/>
<line x1="1138.12" y1="1013.50" x2="1138.12" y2="998.50" stroke="#000" stroke-width="4.8" stroke-linecap="butt"/>
<rect x="1123.75" y="996.25" width="28.75" height="4.50" fill="#000"/>
<rect x="1255.00" y="1226.50" width="57.50" height="138.00" fill="#000"/>
<line x1="1283.75" y1="1227.50" x2="1283.75" y2="1221.50" stroke="#000" stroke-width="4.8" stroke-linecap="butt"/>
<rect x="1270.00" y="1219.00" width="27.50" height="5.00" fill="#000"/>
<rect x="1342.50" y="1113.75" width="57.50" height="250.75" fill="#9a9a9a"/>
<line x1="1371.62" y1="1114.75" x2="1371.62" y2="1105.38" stroke="#000" stroke-width="4.8" stroke-linecap="butt"/>
<rect x="1357.50" y="1103.25" width="28.25" height="4.25" fill="#000"/>
<line x1="977.80" y1="936.00" x2="977.80" y2="1367.00" stroke="#000" stroke-width="5" stroke-linecap="butt"/>
<line x1="965.00" y1="1364.50" x2="1447.50" y2="1364.50" stroke="#000" stroke-width="5" stroke-linecap="butt"/>
<line x1="964.60" y1="937.80" x2="977.80" y2="937.80" stroke="#000" stroke-width="4.6" stroke-linecap="butt"/>
<line x1="964.60" y1="1023.20" x2="977.80" y2="1023.20" stroke="#000" stroke-width="4.6" stroke-linecap="butt"/>
<line x1="964.60" y1="1108.60" x2="977.80" y2="1108.60" stroke="#000" stroke-width="4.6" stroke-linecap="butt"/>
<line x1="964.60" y1="1194.00" x2="977.80" y2="1194.00" stroke="#000" stroke-width="4.6" stroke-linecap="butt"/>
<line x1="964.60" y1="1279.40" x2="977.80" y2="1279.40" stroke="#000" stroke-width="4.6" stroke-linecap="butt"/>
<line x1="964.60" y1="1364.80" x2="977.80" y2="1364.80" stroke="#000" stroke-width="4.6" stroke-linecap="butt"/>
<line x1="1094.00" y1="1364.50" x2="1094.00" y2="1378.00" stroke="#000" stroke-width="5" stroke-linecap="butt"/>
<line x1="1327.00" y1="1364.50" x2="1327.00" y2="1378.00" stroke="#000" stroke-width="5" stroke-linecap="butt"/>
<text x="918.59" y="946.70" font-family="'Liberation Serif', 'Times New Roman', serif" font-weight="bold" font-size="31.00" textLength="42.04" lengthAdjust="spacingAndGlyphs" fill="#000">2.5</text>
<text x="918.59" y="1032.10" font-family="'Liberation Serif', 'Times New Roman', serif" font-weight="bold" font-size="31.00" textLength="42.10" lengthAdjust="spacingAndGlyphs" fill="#000">2.0</text>
<text x="917.22" y="1117.50" font-family="'Liberation Serif', 'Times New Roman', serif" font-weight="bold" font-size="31.00" textLength="43.46" lengthAdjust="spacingAndGlyphs" fill="#000">1.5</text>
<text x="917.21" y="1202.90" font-family="'Liberation Serif', 'Times New Roman', serif" font-weight="bold" font-size="31.00" textLength="43.51" lengthAdjust="spacingAndGlyphs" fill="#000">1.0</text>
<text x="918.72" y="1288.30" font-family="'Liberation Serif', 'Times New Roman', serif" font-weight="bold" font-size="31.00" textLength="41.90" lengthAdjust="spacingAndGlyphs" fill="#000">0.5</text>
<text x="918.72" y="1373.70" font-family="'Liberation Serif', 'Times New Roman', serif" font-weight="bold" font-size="31.00" textLength="41.96" lengthAdjust="spacingAndGlyphs" fill="#000">0.0</text>
<text x="1069.59" y="1412.50" font-family="'Liberation Serif', 'Times New Roman', serif" font-weight="bold" font-size="31.31" textLength="48.35" lengthAdjust="spacingAndGlyphs" fill="#000">WT</text>
<text x="1262.76" y="1412.50" font-family="'Liberation Serif', 'Times New Roman', serif" font-weight="bold" font-size="31.31" textLength="129.85" lengthAdjust="spacingAndGlyphs" fill="#000">3xTg-AD</text>
<text transform="translate(899.00,1326.90) rotate(-90)" x="-0.74" y="0" font-family="'Liberation Serif', 'Times New Roman', serif" font-weight="bold" font-size="38.49" textLength="247.64" lengthAdjust="spacingAndGlyphs" fill="#000">Number of syn</text>
<text transform="translate(899.00,1069.00) rotate(-90)" x="0.35" y="0" font-family="'Liberation Serif', 'Times New Roman', serif" font-weight="bold" font-size="38.49" textLength="10.07" lengthAdjust="spacingAndGlyphs" fill="#000">/</text>
<text transform="translate(899.00,1046.90) rotate(-90)" x="-0.47" y="0" font-family="'Liberation Serif', 'Times New Roman', serif" font-weight="bold" font-size="38.49" textLength="51.90" lengthAdjust="spacingAndGlyphs" fill="#000">μm</text>
<text transform="translate(882.60,993.00) rotate(-90)" x="-1.27" y="0" font-family="'Liberation Serif', 'Times New Roman', serif" font-weight="bold" font-size="29.30" textLength="15.18" lengthAdjust="spacingAndGlyphs" fill="#000">2</text>
<path d="M1050.25,955.75 L1050.25,944.25 Q1050.25,940.25 1054.25,940.25 L1272.50,940.25 Q1276.50,940.25 1276.50,944.25 L1276.50,955.75" fill="none" stroke="#000" stroke-width="4.5"/>
<path d="M1288.50,955.75 L1288.50,944.25 Q1288.50,940.25 1292.50,940.25 L1363.25,940.25 Q1367.25,940.25 1367.25,944.25 L1367.25,955.75" fill="none" stroke="#000" stroke-width="4.5"/>
<text x="1136.84" y="937.50" font-family="'Liberation Serif', 'Times New Roman', serif" font-weight="bold" font-size="39.79" textLength="16.99" lengthAdjust="spacingAndGlyphs" fill="#000">*</text>
<text x="1159.01" y="937.50" font-family="'Liberation Serif', 'Times New Roman', serif" font-weight="bold" font-size="39.79" textLength="16.99" lengthAdjust="spacingAndGlyphs" fill="#000">*</text>
<text x="1181.17" y="937.50" font-family="'Liberation Serif', 'Times New Roman', serif" font-weight="bold" font-size="39.79" textLength="16.99" lengthAdjust="spacingAndGlyphs" fill="#000">*</text>
<text x="1296.08" y="937.50" font-family="'Liberation Serif', 'Times New Roman', serif" font-weight="bold" font-size="39.79" textLength="17.09" lengthAdjust="spacingAndGlyphs" fill="#000">*</text>
<text x="1318.33" y="937.50" font-family="'Liberation Serif', 'Times New Roman', serif" font-weight="bold" font-size="39.79" textLength="17.09" lengthAdjust="spacingAndGlyphs" fill="#000">*</text>
<text x="1340.58" y="937.50" font-family="'Liberation Serif', 'Times New Roman', serif" font-weight="bold" font-size="39.79" textLength="17.09" lengthAdjust="spacingAndGlyphs" fill="#000">*</text>
<rect x="1390.40" y="893.70" width="49.70" height="15.40" fill="#000"/>
<text x="1469.36" y="914.30" font-family="'Liberation Serif', 'Times New Roman', serif" font-weight="bold" font-size="32.53" textLength="57.47" lengthAdjust="spacingAndGlyphs" fill="#000">PBS</text>
<rect x="1390.40" y="940.40" width="49.70" height="15.60" fill="#9a9a9a"/>
<text x="1469.32" y="961.30" font-family="'Liberation Serif', 'Times New Roman', serif" font-weight="bold" font-size="32.99" textLength="115.19" lengthAdjust="spacingAndGlyphs" fill="#000">DA4-JC</text>
<rect x="1021.80" y="1658.70" width="58.20" height="290.05" fill="#000"/>
<line x1="1050.65" y1="1659.70" x2="1050.65" y2="1636.00" stroke="#000" stroke-width="4.8" stroke-linecap="butt"/>
<rect x="1036.20" y="1634.00" width="28.90" height="4.00" fill="#000"/>
<rect x="1109.40" y="1671.00" width="58.10" height="277.75" fill="#9a9a9a"/>
<line x1="1138.35" y1="1672.00" x2="1138.35" y2="1645.45" stroke="#000" stroke-width="4.8" stroke-linecap="butt"/>
<rect x="1123.90" y="1643.50" width="28.90" height="3.90" fill="#000"/>
<rect x="1255.00" y="1871.50" width="57.50" height="77.25" fill="#000"/>
<line x1="1283.75" y1="1872.50" x2="1283.75" y2="1838.50" stroke="#000" stroke-width="4.8" stroke-linecap="butt"/>
<rect x="1270.00" y="1836.50" width="27.50" height="4.00" fill="#000"/>
<rect x="1343.00" y="1758.20" width="58.00" height="190.55" fill="#9a9a9a"/>
<line x1="1371.95" y1="1759.20" x2="1371.95" y2="1710.25" stroke="#000" stroke-width="4.8" stroke-linecap="butt"/>
<rect x="1357.50" y="1708.30" width="28.90" height="3.90" fill="#000"/>
<line x1="977.80" y1="1518.40" x2="977.80" y2="1951.20" stroke="#000" stroke-width="5" stroke-linecap="butt"/>
<line x1="965.00" y1="1948.75" x2="1447.50" y2="1948.75" stroke="#000" stroke-width="5" stroke-linecap="butt"/>
<line x1="964.60" y1="1520.20" x2="977.80" y2="1520.20" stroke="#000" stroke-width="4.6" stroke-linecap="butt"/>
<line x1="964.60" y1="1663.20" x2="977.80" y2="1663.20" stroke="#000" stroke-width="4.6" stroke-linecap="butt"/>
<line x1="964.60" y1="1806.20" x2="977.80" y2="1806.20" stroke="#000" stroke-width="4.6" stroke-linecap="butt"/>
<line x1="964.60" y1="1949.20" x2="977.80" y2="1949.20" stroke="#000" stroke-width="4.6" stroke-linecap="butt"/>
<line x1="1094.00" y1="1948.75" x2="1094.00" y2="1961.00" stroke="#000" stroke-width="5" stroke-linecap="butt"/>
<line x1="1327.00" y1="1948.75" x2="1327.00" y2="1961.00" stroke="#000" stroke-width="5" stroke-linecap="butt"/>
<text x="919.25" y="1529.40" font-family="'Liberation Serif', 'Times New Roman', serif" font-weight="bold" font-size="31.00" textLength="41.36" lengthAdjust="spacingAndGlyphs" fill="#000">1.5</text>
<text x="919.25" y="1672.40" font-family="'Liberation Serif', 'Times New Roman', serif" font-weight="bold" font-size="31.00" textLength="41.42" lengthAdjust="spacingAndGlyphs" fill="#000">1.0</text>
<text x="920.68" y="1815.40" font-family="'Liberation Serif', 'Times New Roman', serif" font-weight="bold" font-size="31.00" textLength="39.88" lengthAdjust="spacingAndGlyphs" fill="#000">0.5</text>
<text x="920.68" y="1958.40" font-family="'Liberation Serif', 'Times New Roman', serif" font-weight="bold" font-size="31.00" textLength="39.93" lengthAdjust="spacingAndGlyphs" fill="#000">0.0</text>
<text x="1069.59" y="1995.00" font-family="'Liberation Serif', 'Times New Roman', serif" font-weight="bold" font-size="33.60" textLength="48.35" lengthAdjust="spacingAndGlyphs" fill="#000">WT</text>
<text x="1262.76" y="1995.00" font-family="'Liberation Serif', 'Times New Roman', serif" font-weight="bold" font-size="33.60" textLength="129.85" lengthAdjust="spacingAndGlyphs" fill="#000">3xTg-AD</text>
<text transform="translate(857.80,1824.70) rotate(-90)" x="-0.77" y="0" font-family="'Liberation Serif', 'Times New Roman', serif" font-weight="bold" font-size="40.01" textLength="186.87" lengthAdjust="spacingAndGlyphs" fill="#000">Number of</text>
<text transform="translate(900.70,1894.40) rotate(-90)" x="-1.46" y="0" font-family="'Liberation Serif', 'Times New Roman', serif" font-weight="bold" font-size="38.94" textLength="242.94" lengthAdjust="spacingAndGlyphs" fill="#000">dendritic spines</text>
<text transform="translate(900.70,1636.10) rotate(-90)" x="0.37" y="0" font-family="'Liberation Serif', 'Times New Roman', serif" font-weight="bold" font-size="38.94" textLength="10.45" lengthAdjust="spacingAndGlyphs" fill="#000">/</text>
<text transform="translate(900.70,1616.20) rotate(-90)" x="-0.50" y="0" font-family="'Liberation Serif', 'Times New Roman', serif" font-weight="bold" font-size="38.94" textLength="54.87" lengthAdjust="spacingAndGlyphs" fill="#000">μm</text>
<path d="M1050.25,1618.20 L1050.25,1606.00 Q1050.25,1602.00 1054.25,1602.00 L1272.50,1602.00 Q1276.50,1602.00 1276.50,1606.00 L1276.50,1618.20" fill="none" stroke="#000" stroke-width="4.5"/>
<path d="M1288.40,1618.20 L1288.40,1606.00 Q1288.40,1602.00 1292.40,1602.00 L1363.80,1602.00 Q1367.80,1602.00 1367.80,1606.00 L1367.80,1618.20" fill="none" stroke="#000" stroke-width="4.5"/>
<text x="1137.67" y="1598.72" font-family="'Liberation Serif', 'Times New Roman', serif" font-weight="bold" font-size="36.87" textLength="17.23" lengthAdjust="spacingAndGlyphs" fill="#000">*</text>
<text x="1160.04" y="1598.72" font-family="'Liberation Serif', 'Times New Roman', serif" font-weight="bold" font-size="36.87" textLength="17.23" lengthAdjust="spacingAndGlyphs" fill="#000">*</text>
<text x="1182.40" y="1598.72" font-family="'Liberation Serif', 'Times New Roman', serif" font-weight="bold" font-size="36.87" textLength="17.23" lengthAdjust="spacingAndGlyphs" fill="#000">*</text>
<text x="1296.47" y="1598.72" font-family="'Liberation Serif', 'Times New Roman', serif" font-weight="bold" font-size="36.87" textLength="17.23" lengthAdjust="spacingAndGlyphs" fill="#000">*</text>
<text x="1318.84" y="1598.72" font-family="'Liberation Serif', 'Times New Roman', serif" font-weight="bold" font-size="36.87" textLength="17.23" lengthAdjust="spacingAndGlyphs" fill="#000">*</text>
<text x="1341.20" y="1598.72" font-family="'Liberation Serif', 'Times New Roman', serif" font-weight="bold" font-size="36.87" textLength="17.23" lengthAdjust="spacingAndGlyphs" fill="#000">*</text>
<rect x="1402.00" y="1485.80" width="49.90" height="16.10" fill="#000"/>
<text x="1480.45" y="1506.80" font-family="'Liberation Serif', 'Times New Roman', serif" font-weight="bold" font-size="33.14" textLength="58.71" lengthAdjust="spacingAndGlyphs" fill="#000">PBS</text>
<rect x="1402.00" y="1532.60" width="49.90" height="15.80" fill="#9a9a9a"/>
<text x="1480.42" y="1553.60" font-family="'Liberation Serif', 'Times New Roman', serif" font-weight="bold" font-size="32.84" textLength="115.91" lengthAdjust="spacingAndGlyphs" fill="#000">DA4-JC</text>
<g clip-path="url(#c1)">
<rect x="91.70" y="1553.00" width="231.60" height="139.40" fill="#a8a8a8"/>
<g filter="url(#bm)"><ellipse cx="196.5" cy="1631.0" rx="28.5" ry="19.3" fill="rgb(167,167,167)" fill-opacity="0.6"/><ellipse cx="227.7" cy="1578.7" rx="20.2" ry="22.6" fill="rgb(177,177,177)" fill-opacity="0.6"/><ellipse cx="113.5" cy="1595.3" rx="11.8" ry="26.2" fill="rgb(174,174,174)" fill-opacity="0.6"/><ellipse cx="101.4" cy="1689.9" rx="29.3" ry="23.1" fill="rgb(171,171,171)" fill-opacity="0.6"/><ellipse cx="128.2" cy="1555.1" rx="20.6" ry="11.2" fill="rgb(156,156,156)" fill-opacity="0.6"/><ellipse cx="147.7" cy="1557.2" rx="19.3" ry="18.8" fill="rgb(179,179,179)" fill-opacity="0.6"/><ellipse cx="211.9" cy="1642.3" rx="20.0" ry="23.2" fill="rgb(166,166,166)" fill-opacity="0.6"/><ellipse cx="156.1" cy="1692.1" rx="29.9" ry="26.8" fill="rgb(174,174,174)" fill-opacity="0.6"/><ellipse cx="164.7" cy="1585.0" rx="15.8" ry="11.4" fill="rgb(176,176,176)" fill-opacity="0.6"/><ellipse cx="184.4" cy="1671.0" rx="17.7" ry="29.2" fill="rgb(179,179,179)" fill-opacity="0.6"/><ellipse cx="91.8" cy="1582.2" rx="28.2" ry="19.4" fill="rgb(184,184,184)" fill-opacity="0.6"/><ellipse cx="183.7" cy="1563.2" rx="22.6" ry="25.6" fill="rgb(159,159,159)" fill-opacity="0.6"/><ellipse cx="111.9" cy="1599.4" rx="29.3" ry="25.2" fill="rgb(154,154,154)" fill-opacity="0.6"/><ellipse cx="148.8" cy="1567.1" rx="11.2" ry="25.9" fill="rgb(156,156,156)" fill-opacity="0.6"/><ellipse cx="221.2" cy="1615.4" rx="13.8" ry="24.6" fill="rgb(154,154,154)" fill-opacity="0.6"/><ellipse cx="240.8" cy="1569.2" rx="18.4" ry="14.3" fill="rgb(159,159,159)" fill-opacity="0.6"/><ellipse cx="316.6" cy="1665.0" rx="16.1" ry="27.7" fill="rgb(157,157,157)" fill-opacity="0.6"/><ellipse cx="183.0" cy="1672.1" rx="22.8" ry="12.0" fill="rgb(184,184,184)" fill-opacity="0.6"/><ellipse cx="141.1" cy="1589.0" rx="25.5" ry="16.6" fill="rgb(160,160,160)" fill-opacity="0.6"/><ellipse cx="108.7" cy="1565.6" rx="21.7" ry="14.9" fill="rgb(171,171,171)" fill-opacity="0.6"/><ellipse cx="177.8" cy="1616.2" rx="29.2" ry="19.7" fill="rgb(170,170,170)" fill-opacity="0.6"/><ellipse cx="292.4" cy="1578.5" rx="13.1" ry="28.2" fill="rgb(178,178,178)" fill-opacity="0.6"/><ellipse cx="149.5" cy="1579.5" rx="24.8" ry="28.8" fill="rgb(156,156,156)" fill-opacity="0.6"/><ellipse cx="311.8" cy="1676.0" rx="22.1" ry="18.4" fill="rgb(153,153,153)" fill-opacity="0.6"/><ellipse cx="100.7" cy="1687.2" rx="14.8" ry="24.1" fill="rgb(158,158,158)" fill-opacity="0.6"/><ellipse cx="282.5" cy="1636.1" rx="15.9" ry="13.5" fill="rgb(175,175,175)" fill-opacity="0.6"/></g>
<g filter="url(#bm)"><ellipse cx="92" cy="1610" rx="22" ry="60" fill="#8a8a8a" fill-opacity="0.8"/><ellipse cx="322" cy="1558" rx="28" ry="22" fill="#555" fill-opacity="0.8"/></g>
<path d="M86.0,1662.0 L104.4,1660.2 L123.9,1650.5 L136.9,1640.7 L153.1,1632.0 L171.0,1631.0 L185.6,1631.0 L201.9,1624.5 L218.1,1618.0 L234.4,1612.0 L250.6,1609.0 L266.9,1608.2 L283.1,1600.1 L296.1,1588.7 L307.5,1577.4 L328.0,1560.0" fill="none" stroke="#5a5a5a" stroke-opacity="0.55" stroke-width="22.8" stroke-linejoin="round" stroke-linecap="round" filter="url(#bh)"/><g filter="url(#bd)"><path d="M86.0,1662.0 L104.4,1660.2 L123.9,1650.5 L136.9,1640.7 L153.1,1632.0 L171.0,1631.0 L185.6,1631.0 L201.9,1624.5 L218.1,1618.0 L234.4,1612.0 L250.6,1609.0 L266.9,1608.2 L283.1,1600.1 L296.1,1588.7 L307.5,1577.4 L328.0,1560.0" fill="none" stroke="#222" stroke-width="12.0" stroke-linejoin="round" stroke-linecap="round"/><circle cx="86.3" cy="1664.6" r="6.7" fill="#303030"/><circle cx="88.8" cy="1659.4" r="5.0" fill="#3a3a3a"/><circle cx="92.3" cy="1662.8" r="3.2" fill="#262626"/><circle cx="95.2" cy="1661.2" r="4.6" fill="#3a3a3a"/><circle cx="98.8" cy="1666.2" r="5.9" fill="#262626"/><circle cx="101.8" cy="1665.0" r="3.8" fill="#3a3a3a"/><circle cx="106.9" cy="1665.1" r="4.8" fill="#3a3a3a"/><circle cx="106.9" cy="1658.2" r="4.6" fill="#303030"/><circle cx="107.7" cy="1652.9" r="4.3" fill="#303030"/><circle cx="115.2" cy="1660.9" r="5.2" fill="#1c1c1c"/><circle cx="118.0" cy="1659.5" r="7.2" fill="#3a3a3a"/><circle cx="119.6" cy="1655.8" r="6.8" fill="#3a3a3a"/><circle cx="120.2" cy="1650.0" r="4.9" fill="#1c1c1c"/><circle cx="120.2" cy="1645.6" r="5.3" fill="#1c1c1c"/><circle cx="126.8" cy="1648.9" r="3.9" fill="#1c1c1c"/><circle cx="130.8" cy="1648.8" r="6.0" fill="#3a3a3a"/><circle cx="133.1" cy="1646.5" r="7.9" fill="#3a3a3a"/><circle cx="133.0" cy="1640.9" r="8.3" fill="#3a3a3a"/><circle cx="136.1" cy="1639.3" r="6.3" fill="#303030"/><circle cx="140.3" cy="1640.5" r="4.9" fill="#3a3a3a"/><circle cx="142.9" cy="1638.9" r="4.8" fill="#262626"/><circle cx="143.7" cy="1634.0" r="4.3" fill="#1c1c1c"/><circle cx="148.1" cy="1635.7" r="5.6" fill="#303030"/><circle cx="151.1" cy="1634.8" r="3.7" fill="#303030"/><circle cx="153.1" cy="1632.1" r="5.7" fill="#262626"/><circle cx="156.7" cy="1632.3" r="3.5" fill="#1c1c1c"/><circle cx="160.1" cy="1628.4" r="2.1" fill="#262626"/><circle cx="163.4" cy="1623.0" r="7.2" fill="#1c1c1c"/><circle cx="167.6" cy="1634.1" r="3.7" fill="#3a3a3a"/><circle cx="171.0" cy="1627.1" r="1.9" fill="#262626"/><circle cx="174.7" cy="1631.7" r="5.3" fill="#3a3a3a"/><circle cx="178.3" cy="1631.6" r="3.2" fill="#303030"/><circle cx="181.9" cy="1633.5" r="5.2" fill="#303030"/><circle cx="186.5" cy="1633.3" r="5.1" fill="#3a3a3a"/><circle cx="189.9" cy="1632.3" r="5.4" fill="#262626"/><circle cx="194.2" cy="1633.5" r="4.6" fill="#3a3a3a"/><circle cx="196.0" cy="1628.7" r="5.1" fill="#3a3a3a"/><circle cx="199.5" cy="1627.9" r="5.0" fill="#303030"/><circle cx="202.6" cy="1626.3" r="2.0" fill="#3a3a3a"/><circle cx="202.5" cy="1616.5" r="5.1" fill="#3a3a3a"/><circle cx="207.8" cy="1620.5" r="6.5" fill="#303030"/><circle cx="212.9" cy="1623.8" r="6.6" fill="#3a3a3a"/><circle cx="213.6" cy="1616.2" r="1.6" fill="#1c1c1c"/><circle cx="218.0" cy="1617.7" r="6.1" fill="#262626"/><circle cx="222.3" cy="1619.3" r="3.3" fill="#303030"/><circle cx="223.8" cy="1613.5" r="2.6" fill="#262626"/><circle cx="228.2" cy="1615.3" r="5.3" fill="#1c1c1c"/><circle cx="231.8" cy="1615.0" r="6.7" fill="#262626"/><circle cx="234.7" cy="1613.5" r="5.2" fill="#303030"/><circle cx="238.2" cy="1614.3" r="6.1" fill="#303030"/><circle cx="239.9" cy="1605.3" r="6.7" fill="#262626"/><circle cx="244.6" cy="1612.9" r="7.4" fill="#262626"/><circle cx="247.2" cy="1608.6" r="3.1" fill="#1c1c1c"/><circle cx="250.4" cy="1605.8" r="3.8" fill="#1c1c1c"/><circle cx="253.9" cy="1608.9" r="4.7" fill="#3a3a3a"/><circle cx="257.2" cy="1610.9" r="3.7" fill="#262626"/><circle cx="260.5" cy="1610.0" r="4.0" fill="#303030"/><circle cx="263.6" cy="1608.3" r="3.8" fill="#262626"/><circle cx="265.7" cy="1605.8" r="7.7" fill="#303030"/><circle cx="270.7" cy="1609.1" r="2.5" fill="#3a3a3a"/><circle cx="272.9" cy="1606.8" r="4.6" fill="#1c1c1c"/><circle cx="272.6" cy="1599.3" r="4.7" fill="#303030"/><circle cx="277.2" cy="1601.7" r="6.8" fill="#262626"/><circle cx="282.9" cy="1606.5" r="5.9" fill="#262626"/><circle cx="281.9" cy="1598.7" r="5.8" fill="#3a3a3a"/><circle cx="286.4" cy="1598.6" r="5.2" fill="#1c1c1c"/><circle cx="285.5" cy="1592.3" r="3.0" fill="#3a3a3a"/><circle cx="285.5" cy="1587.1" r="4.7" fill="#3a3a3a"/><circle cx="290.9" cy="1588.0" r="5.2" fill="#3a3a3a"/><circle cx="296.6" cy="1589.2" r="5.0" fill="#3a3a3a"/><circle cx="300.2" cy="1588.3" r="5.1" fill="#3a3a3a"/><circle cx="300.2" cy="1583.7" r="3.3" fill="#262626"/><circle cx="301.2" cy="1580.2" r="5.6" fill="#262626"/><circle cx="301.1" cy="1575.5" r="2.1" fill="#1c1c1c"/><circle cx="308.8" cy="1578.9" r="5.0" fill="#303030"/><circle cx="309.1" cy="1574.1" r="1.9" fill="#3a3a3a"/><circle cx="310.1" cy="1570.0" r="3.1" fill="#303030"/><circle cx="315.3" cy="1571.0" r="8.0" fill="#3a3a3a"/><circle cx="317.0" cy="1567.8" r="6.2" fill="#1c1c1c"/><circle cx="321.1" cy="1567.4" r="5.7" fill="#3a3a3a"/><circle cx="322.7" cy="1564.1" r="4.2" fill="#262626"/><circle cx="327.1" cy="1564.1" r="5.4" fill="#3a3a3a"/></g>
<rect x="289.60" y="1672.40" width="25.20" height="3.30" fill="#ffffff"/>
<text x="290.4" y="1666.7" font-family="'Liberation Sans', Arial, sans-serif" font-size="10" fill="#ffffff" textLength="25" lengthAdjust="spacingAndGlyphs">1 μm</text>
</g>
<g clip-path="url(#c2)">
<rect x="373.50" y="1554.60" width="232.70" height="139.00" fill="#aaaaaa"/>
<g filter="url(#bm)"><ellipse cx="483.9" cy="1668.4" rx="25.3" ry="14.9" fill="rgb(160,160,160)" fill-opacity="0.6"/><ellipse cx="460.7" cy="1640.2" rx="28.2" ry="25.8" fill="rgb(178,178,178)" fill-opacity="0.6"/><ellipse cx="503.4" cy="1668.7" rx="14.9" ry="20.8" fill="rgb(164,164,164)" fill-opacity="0.6"/><ellipse cx="584.3" cy="1624.3" rx="28.4" ry="13.5" fill="rgb(180,180,180)" fill-opacity="0.6"/><ellipse cx="451.9" cy="1649.8" rx="28.8" ry="12.4" fill="rgb(161,161,161)" fill-opacity="0.6"/><ellipse cx="586.4" cy="1657.5" rx="13.8" ry="31.7" fill="rgb(188,188,188)" fill-opacity="0.6"/><ellipse cx="399.7" cy="1651.1" rx="14.7" ry="18.3" fill="rgb(178,178,178)" fill-opacity="0.6"/><ellipse cx="411.6" cy="1671.3" rx="13.0" ry="15.4" fill="rgb(184,184,184)" fill-opacity="0.6"/><ellipse cx="466.7" cy="1650.8" rx="23.9" ry="21.5" fill="rgb(171,171,171)" fill-opacity="0.6"/><ellipse cx="380.6" cy="1673.5" rx="31.3" ry="31.5" fill="rgb(179,179,179)" fill-opacity="0.6"/><ellipse cx="456.4" cy="1646.7" rx="25.8" ry="25.5" fill="rgb(163,163,163)" fill-opacity="0.6"/><ellipse cx="428.2" cy="1646.7" rx="22.2" ry="28.2" fill="rgb(175,175,175)" fill-opacity="0.6"/><ellipse cx="380.0" cy="1680.5" rx="20.6" ry="22.4" fill="rgb(166,166,166)" fill-opacity="0.6"/><ellipse cx="472.9" cy="1648.6" rx="27.4" ry="14.1" fill="rgb(176,176,176)" fill-opacity="0.6"/><ellipse cx="414.9" cy="1671.2" rx="12.7" ry="17.5" fill="rgb(170,170,170)" fill-opacity="0.6"/><ellipse cx="521.7" cy="1623.8" rx="21.2" ry="16.2" fill="rgb(168,168,168)" fill-opacity="0.6"/><ellipse cx="484.3" cy="1690.6" rx="21.6" ry="31.1" fill="rgb(165,165,165)" fill-opacity="0.6"/><ellipse cx="588.6" cy="1646.8" rx="15.8" ry="27.0" fill="rgb(187,187,187)" fill-opacity="0.6"/><ellipse cx="375.1" cy="1639.7" rx="27.4" ry="18.8" fill="rgb(167,167,167)" fill-opacity="0.6"/><ellipse cx="375.5" cy="1622.9" rx="24.4" ry="31.7" fill="rgb(189,189,189)" fill-opacity="0.6"/><ellipse cx="490.7" cy="1621.8" rx="18.4" ry="27.7" fill="rgb(184,184,184)" fill-opacity="0.6"/><ellipse cx="522.3" cy="1636.9" rx="22.5" ry="21.5" fill="rgb(178,178,178)" fill-opacity="0.6"/></g>
<g filter="url(#bm)"><rect x="360" y="1545" width="200" height="22" fill="#3e3e3e" fill-opacity="0.8"/><ellipse cx="410" cy="1570" rx="70" ry="32" fill="#474747" fill-opacity="0.9"/><ellipse cx="480" cy="1570" rx="70" ry="22" fill="#6a6a6a" fill-opacity="0.8"/><ellipse cx="385" cy="1610" rx="25" ry="40" fill="#707070" fill-opacity="0.7"/><ellipse cx="560" cy="1580" rx="45" ry="20" fill="#9a9a9a" fill-opacity="0.7"/><ellipse cx="604" cy="1660" rx="8" ry="30" fill="#666" fill-opacity="0.8"/><ellipse cx="395" cy="1672" rx="30" ry="18" fill="#8c8c8c" fill-opacity="0.6"/></g>
<path d="M368.0,1646.0 L392.5,1645.6 L425.0,1647.2 L441.3,1639.1 L457.5,1626.1 L473.7,1618.0 L490.0,1609.9 L514.4,1605.0 L538.7,1600.1 L563.1,1598.5 L579.4,1592.0 L608.0,1585.0" fill="none" stroke="#5a5a5a" stroke-opacity="0.55" stroke-width="24.7" stroke-linejoin="round" stroke-linecap="round" filter="url(#bh)"/><g filter="url(#bd)"><path d="M368.0,1646.0 L392.5,1645.6 L425.0,1647.2 L441.3,1639.1 L457.5,1626.1 L473.7,1618.0 L490.0,1609.9 L514.4,1605.0 L538.7,1600.1 L563.1,1598.5 L579.4,1592.0 L608.0,1585.0" fill="none" stroke="#222" stroke-width="13.0" stroke-linejoin="round" stroke-linecap="round"/><circle cx="368.0" cy="1647.9" r="4.9" fill="#1c1c1c"/><circle cx="371.0" cy="1642.9" r="4.1" fill="#1c1c1c"/><circle cx="374.1" cy="1645.4" r="2.0" fill="#1c1c1c"/><circle cx="377.2" cy="1646.9" r="9.1" fill="#303030"/><circle cx="380.3" cy="1648.1" r="5.0" fill="#3a3a3a"/><circle cx="383.3" cy="1645.5" r="4.7" fill="#1c1c1c"/><circle cx="386.3" cy="1643.0" r="4.4" fill="#262626"/><circle cx="389.4" cy="1646.4" r="5.8" fill="#1c1c1c"/><circle cx="392.6" cy="1644.0" r="3.1" fill="#303030"/><circle cx="395.7" cy="1647.2" r="6.6" fill="#262626"/><circle cx="399.0" cy="1645.4" r="6.4" fill="#262626"/><circle cx="402.4" cy="1643.1" r="5.8" fill="#1c1c1c"/><circle cx="405.6" cy="1643.8" r="5.7" fill="#303030"/><circle cx="408.9" cy="1642.7" r="5.0" fill="#262626"/><circle cx="412.1" cy="1645.3" r="6.6" fill="#1c1c1c"/><circle cx="415.3" cy="1645.3" r="7.2" fill="#3a3a3a"/><circle cx="418.5" cy="1647.2" r="1.8" fill="#3a3a3a"/><circle cx="421.2" cy="1657.4" r="7.9" fill="#303030"/><circle cx="427.3" cy="1651.8" r="6.7" fill="#1c1c1c"/><circle cx="431.3" cy="1653.1" r="3.5" fill="#262626"/><circle cx="429.8" cy="1643.3" r="5.6" fill="#262626"/><circle cx="434.1" cy="1645.1" r="6.9" fill="#303030"/><circle cx="437.4" cy="1644.9" r="8.2" fill="#262626"/><circle cx="438.0" cy="1639.3" r="5.4" fill="#262626"/><circle cx="442.2" cy="1640.3" r="3.0" fill="#262626"/><circle cx="443.4" cy="1636.2" r="4.6" fill="#262626"/><circle cx="443.1" cy="1630.3" r="6.7" fill="#3a3a3a"/><circle cx="450.5" cy="1634.0" r="5.4" fill="#262626"/><circle cx="446.1" cy="1622.9" r="2.7" fill="#3a3a3a"/><circle cx="454.0" cy="1627.2" r="5.2" fill="#303030"/><circle cx="458.3" cy="1627.6" r="4.9" fill="#303030"/><circle cx="460.5" cy="1625.3" r="5.1" fill="#303030"/><circle cx="461.9" cy="1621.4" r="4.1" fill="#262626"/><circle cx="464.1" cy="1619.0" r="3.6" fill="#303030"/><circle cx="468.6" cy="1621.3" r="5.7" fill="#262626"/><circle cx="470.5" cy="1618.4" r="5.8" fill="#262626"/><circle cx="471.9" cy="1614.3" r="4.8" fill="#1c1c1c"/><circle cx="477.0" cy="1617.8" r="6.3" fill="#1c1c1c"/><circle cx="477.2" cy="1611.3" r="4.1" fill="#3a3a3a"/><circle cx="480.4" cy="1611.0" r="7.3" fill="#262626"/><circle cx="486.1" cy="1615.7" r="5.5" fill="#1c1c1c"/><circle cx="488.0" cy="1612.8" r="7.7" fill="#3a3a3a"/><circle cx="491.0" cy="1615.1" r="5.9" fill="#3a3a3a"/><circle cx="492.5" cy="1606.7" r="5.4" fill="#262626"/><circle cx="497.3" cy="1614.8" r="7.5" fill="#262626"/><circle cx="499.9" cy="1612.0" r="8.7" fill="#303030"/><circle cx="503.0" cy="1611.4" r="5.8" fill="#303030"/><circle cx="506.0" cy="1610.8" r="5.6" fill="#1c1c1c"/><circle cx="508.1" cy="1605.2" r="7.8" fill="#262626"/><circle cx="509.9" cy="1598.6" r="1.8" fill="#262626"/><circle cx="513.7" cy="1601.5" r="5.7" fill="#303030"/><circle cx="516.7" cy="1600.5" r="7.8" fill="#1c1c1c"/><circle cx="520.2" cy="1602.4" r="3.1" fill="#1c1c1c"/><circle cx="524.1" cy="1606.1" r="7.7" fill="#303030"/><circle cx="526.3" cy="1601.3" r="8.1" fill="#303030"/><circle cx="529.8" cy="1603.0" r="6.3" fill="#262626"/><circle cx="531.9" cy="1597.7" r="7.4" fill="#3a3a3a"/><circle cx="535.2" cy="1598.5" r="2.4" fill="#262626"/><circle cx="538.5" cy="1596.8" r="5.2" fill="#1c1c1c"/><circle cx="541.5" cy="1595.9" r="6.6" fill="#262626"/><circle cx="544.8" cy="1599.3" r="4.5" fill="#3a3a3a"/><circle cx="547.8" cy="1598.9" r="5.6" fill="#262626"/><circle cx="551.0" cy="1600.4" r="6.6" fill="#1c1c1c"/><circle cx="553.5" cy="1593.0" r="4.7" fill="#1c1c1c"/><circle cx="557.2" cy="1602.2" r="6.4" fill="#1c1c1c"/><circle cx="560.2" cy="1601.1" r="2.4" fill="#1c1c1c"/><circle cx="560.4" cy="1591.6" r="3.7" fill="#303030"/><circle cx="563.2" cy="1589.2" r="5.0" fill="#3a3a3a"/><circle cx="568.2" cy="1592.2" r="4.3" fill="#303030"/><circle cx="572.0" cy="1592.4" r="7.3" fill="#1c1c1c"/><circle cx="578.1" cy="1598.2" r="3.5" fill="#303030"/><circle cx="579.4" cy="1591.9" r="5.0" fill="#262626"/><circle cx="584.4" cy="1598.8" r="6.4" fill="#303030"/><circle cx="587.3" cy="1596.8" r="2.8" fill="#1c1c1c"/><circle cx="589.7" cy="1592.7" r="6.2" fill="#303030"/><circle cx="592.6" cy="1590.7" r="4.7" fill="#303030"/><circle cx="594.6" cy="1585.3" r="5.9" fill="#3a3a3a"/><circle cx="598.1" cy="1585.8" r="7.0" fill="#303030"/><circle cx="602.4" cy="1589.8" r="4.2" fill="#303030"/><circle cx="604.2" cy="1583.3" r="5.1" fill="#262626"/></g>
<rect x="571.20" y="1673.60" width="24.40" height="3.20" fill="#ffffff"/>
</g>
<g clip-path="url(#c3)">
<rect x="91.70" y="1765.60" width="230.70" height="138.10" fill="#b9b9b9"/>
<g filter="url(#bm)"><ellipse cx="112" cy="1782" rx="22" ry="20" fill="#a0a0a0" fill-opacity="0.8"/></g>
<path d="M86.0,1806.0 L112.5,1807.0 L128.8,1813.5 L145.0,1828.1 L161.2,1826.0 L177.5,1824.9 L193.7,1824.9 L208.4,1831.4 L218.1,1844.4 L229.5,1855.7 L242.5,1860.6 L258.8,1859.0 L275.0,1857.4 L291.2,1859.0 L307.5,1852.5 L328.0,1838.0" fill="none" stroke="#5a5a5a" stroke-opacity="0.55" stroke-width="32.3" stroke-linejoin="round" stroke-linecap="round" filter="url(#bh)"/><g filter="url(#bd)"><path d="M86.0,1806.0 L112.5,1807.0 L128.8,1813.5 L145.0,1828.1 L161.2,1826.0 L177.5,1824.9 L193.7,1824.9 L208.4,1831.4 L218.1,1844.4 L229.5,1855.7 L242.5,1860.6 L258.8,1859.0 L275.0,1857.4 L291.2,1859.0 L307.5,1852.5 L328.0,1838.0" fill="none" stroke="#222" stroke-width="17.0" stroke-linejoin="round" stroke-linecap="round"/><circle cx="85.7" cy="1814.3" r="4.2" fill="#1c1c1c"/><circle cx="89.2" cy="1809.4" r="6.6" fill="#3a3a3a"/><circle cx="92.7" cy="1804.3" r="6.2" fill="#262626"/><circle cx="95.9" cy="1806.3" r="6.8" fill="#3a3a3a"/><circle cx="99.2" cy="1808.0" r="5.9" fill="#3a3a3a"/><circle cx="102.7" cy="1802.6" r="7.6" fill="#3a3a3a"/><circle cx="105.9" cy="1805.9" r="7.0" fill="#1c1c1c"/><circle cx="109.4" cy="1802.2" r="4.9" fill="#262626"/><circle cx="111.2" cy="1810.3" r="6.1" fill="#303030"/><circle cx="114.6" cy="1811.1" r="6.1" fill="#303030"/><circle cx="121.3" cy="1803.8" r="4.8" fill="#262626"/><circle cx="122.7" cy="1810.0" r="3.8" fill="#3a3a3a"/><circle cx="125.9" cy="1811.2" r="5.4" fill="#262626"/><circle cx="132.5" cy="1809.4" r="5.8" fill="#262626"/><circle cx="132.0" cy="1814.6" r="6.0" fill="#3a3a3a"/><circle cx="131.4" cy="1819.9" r="6.8" fill="#303030"/><circle cx="134.8" cy="1820.8" r="4.8" fill="#303030"/><circle cx="135.5" cy="1824.7" r="4.9" fill="#3a3a3a"/><circle cx="142.3" cy="1821.8" r="6.0" fill="#1c1c1c"/><circle cx="143.6" cy="1825.0" r="5.7" fill="#3a3a3a"/><circle cx="145.0" cy="1828.5" r="9.0" fill="#1c1c1c"/><circle cx="148.5" cy="1829.8" r="6.0" fill="#1c1c1c"/><circle cx="152.0" cy="1830.9" r="7.2" fill="#1c1c1c"/><circle cx="154.9" cy="1828.3" r="7.7" fill="#1c1c1c"/><circle cx="158.8" cy="1833.2" r="5.8" fill="#1c1c1c"/><circle cx="160.5" cy="1815.0" r="5.0" fill="#1c1c1c"/><circle cx="164.1" cy="1819.9" r="11.0" fill="#3a3a3a"/><circle cx="167.6" cy="1824.5" r="6.5" fill="#303030"/><circle cx="170.8" cy="1822.9" r="6.7" fill="#3a3a3a"/><circle cx="174.4" cy="1827.6" r="6.0" fill="#1c1c1c"/><circle cx="177.5" cy="1819.7" r="5.4" fill="#262626"/><circle cx="180.7" cy="1824.8" r="8.6" fill="#1c1c1c"/><circle cx="184.0" cy="1821.6" r="7.1" fill="#3a3a3a"/><circle cx="187.2" cy="1828.1" r="2.5" fill="#3a3a3a"/><circle cx="190.5" cy="1833.7" r="8.6" fill="#262626"/><circle cx="195.3" cy="1821.4" r="5.8" fill="#303030"/><circle cx="196.4" cy="1826.8" r="3.9" fill="#1c1c1c"/><circle cx="199.2" cy="1828.3" r="5.6" fill="#262626"/><circle cx="203.5" cy="1826.6" r="8.7" fill="#3a3a3a"/><circle cx="205.4" cy="1830.2" r="11.5" fill="#1c1c1c"/><circle cx="210.8" cy="1829.6" r="9.1" fill="#1c1c1c"/><circle cx="210.0" cy="1834.3" r="9.0" fill="#3a3a3a"/><circle cx="209.5" cy="1838.7" r="1.4" fill="#303030"/><circle cx="211.3" cy="1841.4" r="6.5" fill="#262626"/><circle cx="216.2" cy="1841.8" r="4.4" fill="#1c1c1c"/><circle cx="216.7" cy="1845.8" r="8.4" fill="#3a3a3a"/><circle cx="217.7" cy="1849.4" r="5.8" fill="#303030"/><circle cx="226.7" cy="1844.8" r="6.8" fill="#262626"/><circle cx="227.2" cy="1848.9" r="6.2" fill="#1c1c1c"/><circle cx="227.1" cy="1853.6" r="7.2" fill="#3a3a3a"/><circle cx="229.7" cy="1855.2" r="6.7" fill="#3a3a3a"/><circle cx="233.6" cy="1854.6" r="5.4" fill="#303030"/><circle cx="238.0" cy="1852.8" r="8.5" fill="#303030"/><circle cx="238.1" cy="1862.5" r="6.0" fill="#3a3a3a"/><circle cx="243.2" cy="1868.2" r="7.6" fill="#3a3a3a"/><circle cx="245.8" cy="1860.6" r="2.2" fill="#303030"/><circle cx="248.9" cy="1858.6" r="4.6" fill="#303030"/><circle cx="252.5" cy="1861.8" r="6.4" fill="#303030"/><circle cx="255.9" cy="1862.6" r="7.9" fill="#1c1c1c"/><circle cx="258.7" cy="1857.9" r="9.9" fill="#1c1c1c"/><circle cx="262.2" cy="1860.5" r="5.2" fill="#1c1c1c"/><circle cx="265.3" cy="1858.5" r="12.2" fill="#3a3a3a"/><circle cx="269.2" cy="1864.7" r="7.4" fill="#303030"/><circle cx="271.9" cy="1859.2" r="8.9" fill="#1c1c1c"/><circle cx="274.8" cy="1859.3" r="8.6" fill="#303030"/><circle cx="278.3" cy="1857.3" r="7.2" fill="#262626"/><circle cx="281.3" cy="1859.9" r="6.7" fill="#262626"/><circle cx="284.5" cy="1860.4" r="6.3" fill="#262626"/><circle cx="287.7" cy="1861.6" r="5.7" fill="#303030"/><circle cx="289.0" cy="1853.5" r="5.0" fill="#1c1c1c"/><circle cx="293.0" cy="1853.9" r="4.8" fill="#303030"/><circle cx="299.0" cy="1859.6" r="6.8" fill="#262626"/><circle cx="301.6" cy="1856.6" r="5.4" fill="#3a3a3a"/><circle cx="306.6" cy="1859.7" r="6.3" fill="#262626"/><circle cx="303.2" cy="1846.5" r="5.6" fill="#3a3a3a"/><circle cx="308.7" cy="1848.7" r="4.3" fill="#262626"/><circle cx="312.5" cy="1848.6" r="1.8" fill="#303030"/><circle cx="312.1" cy="1842.7" r="7.2" fill="#262626"/><circle cx="313.9" cy="1839.8" r="11.0" fill="#303030"/><circle cx="320.6" cy="1843.9" r="5.9" fill="#3a3a3a"/><circle cx="322.0" cy="1840.4" r="7.6" fill="#262626"/><circle cx="326.0" cy="1840.6" r="8.5" fill="#1c1c1c"/></g>
<g filter="url(#bs)"><ellipse cx="258" cy="1822" rx="3" ry="6" fill="#666"/><ellipse cx="238" cy="1886" rx="2" ry="4" fill="#777"/><ellipse cx="203" cy="1810" rx="3" ry="7" fill="#888"/></g>
<rect x="288.80" y="1883.40" width="24.90" height="3.20" fill="#ffffff"/>
</g>
<g clip-path="url(#c4)">
<rect x="373.30" y="1765.60" width="232.90" height="138.90" fill="#b2b2b2"/>
<path d="M368.0,1830.0 L392.5,1828.1 L405.5,1820.0 L416.9,1807.0 L428.2,1799.0 L449.4,1803.8 L465.6,1805.4 L490.0,1802.1 L514.4,1803.8 L538.7,1813.5 L563.1,1820.0 L579.4,1828.1 L610.0,1844.0" fill="none" stroke="#5a5a5a" stroke-opacity="0.55" stroke-width="28.5" stroke-linejoin="round" stroke-linecap="round" filter="url(#bh)"/><g filter="url(#bd)"><path d="M368.0,1830.0 L392.5,1828.1 L405.5,1820.0 L416.9,1807.0 L428.2,1799.0 L449.4,1803.8 L465.6,1805.4 L490.0,1802.1 L514.4,1803.8 L538.7,1813.5 L563.1,1820.0 L579.4,1828.1 L610.0,1844.0" fill="none" stroke="#222" stroke-width="15.0" stroke-linejoin="round" stroke-linecap="round"/><circle cx="367.8" cy="1827.6" r="2.5" fill="#262626"/><circle cx="371.1" cy="1830.4" r="6.9" fill="#262626"/><circle cx="374.0" cy="1828.4" r="5.1" fill="#262626"/><circle cx="377.3" cy="1830.8" r="4.4" fill="#1c1c1c"/><circle cx="379.5" cy="1818.9" r="7.1" fill="#1c1c1c"/><circle cx="383.6" cy="1832.1" r="6.0" fill="#3a3a3a"/><circle cx="386.3" cy="1828.2" r="3.9" fill="#303030"/><circle cx="388.1" cy="1810.6" r="5.8" fill="#303030"/><circle cx="393.4" cy="1829.6" r="4.9" fill="#303030"/><circle cx="396.2" cy="1828.2" r="5.6" fill="#303030"/><circle cx="397.3" cy="1824.2" r="5.4" fill="#262626"/><circle cx="397.8" cy="1819.3" r="9.3" fill="#1c1c1c"/><circle cx="402.1" cy="1820.3" r="7.1" fill="#262626"/><circle cx="410.9" cy="1824.7" r="1.3" fill="#303030"/><circle cx="407.1" cy="1816.8" r="8.8" fill="#262626"/><circle cx="414.0" cy="1818.3" r="7.0" fill="#262626"/><circle cx="410.3" cy="1810.4" r="4.5" fill="#262626"/><circle cx="409.3" cy="1804.9" r="1.5" fill="#262626"/><circle cx="414.5" cy="1803.6" r="6.0" fill="#262626"/><circle cx="417.4" cy="1801.7" r="5.5" fill="#262626"/><circle cx="422.2" cy="1802.6" r="8.4" fill="#262626"/><circle cx="421.0" cy="1794.8" r="7.8" fill="#3a3a3a"/><circle cx="427.2" cy="1803.6" r="6.5" fill="#303030"/><circle cx="431.2" cy="1799.7" r="7.0" fill="#3a3a3a"/><circle cx="435.6" cy="1794.3" r="8.9" fill="#303030"/><circle cx="434.9" cy="1811.6" r="6.6" fill="#303030"/><circle cx="442.3" cy="1793.1" r="7.0" fill="#1c1c1c"/><circle cx="439.8" cy="1818.0" r="7.1" fill="#3a3a3a"/><circle cx="445.8" cy="1805.6" r="3.7" fill="#3a3a3a"/><circle cx="448.8" cy="1809.9" r="3.0" fill="#303030"/><circle cx="452.8" cy="1802.6" r="7.2" fill="#303030"/><circle cx="455.9" cy="1804.4" r="5.1" fill="#1c1c1c"/><circle cx="458.1" cy="1815.2" r="3.6" fill="#1c1c1c"/><circle cx="462.6" cy="1803.1" r="4.0" fill="#3a3a3a"/><circle cx="466.1" cy="1808.9" r="5.0" fill="#3a3a3a"/><circle cx="468.3" cy="1802.7" r="4.2" fill="#1c1c1c"/><circle cx="471.6" cy="1803.7" r="6.0" fill="#3a3a3a"/><circle cx="474.9" cy="1805.0" r="4.7" fill="#262626"/><circle cx="478.3" cy="1807.5" r="4.0" fill="#262626"/><circle cx="481.2" cy="1806.1" r="5.5" fill="#1c1c1c"/><circle cx="484.1" cy="1804.6" r="6.3" fill="#262626"/><circle cx="487.8" cy="1808.8" r="4.9" fill="#3a3a3a"/><circle cx="489.2" cy="1813.4" r="7.0" fill="#303030"/><circle cx="492.9" cy="1805.1" r="6.5" fill="#262626"/><circle cx="496.0" cy="1804.2" r="2.8" fill="#3a3a3a"/><circle cx="499.5" cy="1798.1" r="5.6" fill="#3a3a3a"/><circle cx="502.6" cy="1797.8" r="6.2" fill="#262626"/><circle cx="505.4" cy="1801.2" r="6.8" fill="#262626"/><circle cx="508.1" cy="1805.8" r="7.6" fill="#303030"/><circle cx="511.5" cy="1801.4" r="9.4" fill="#262626"/><circle cx="515.1" cy="1802.1" r="5.0" fill="#1c1c1c"/><circle cx="518.6" cy="1802.1" r="8.6" fill="#262626"/><circle cx="518.5" cy="1811.2" r="4.8" fill="#262626"/><circle cx="522.2" cy="1810.6" r="10.7" fill="#3a3a3a"/><circle cx="531.9" cy="1795.2" r="2.9" fill="#3a3a3a"/><circle cx="530.0" cy="1808.8" r="4.8" fill="#1c1c1c"/><circle cx="531.5" cy="1813.9" r="5.3" fill="#262626"/><circle cx="535.8" cy="1811.9" r="4.5" fill="#262626"/><circle cx="539.0" cy="1812.5" r="7.8" fill="#262626"/><circle cx="540.9" cy="1817.5" r="4.9" fill="#303030"/><circle cx="543.1" cy="1821.4" r="5.0" fill="#1c1c1c"/><circle cx="547.8" cy="1816.3" r="8.3" fill="#303030"/><circle cx="549.7" cy="1821.3" r="5.1" fill="#262626"/><circle cx="553.0" cy="1821.0" r="1.8" fill="#3a3a3a"/><circle cx="557.3" cy="1817.3" r="6.5" fill="#3a3a3a"/><circle cx="559.2" cy="1822.3" r="4.1" fill="#3a3a3a"/><circle cx="565.6" cy="1815.0" r="6.1" fill="#1c1c1c"/><circle cx="563.5" cy="1825.9" r="7.2" fill="#303030"/><circle cx="570.6" cy="1818.6" r="4.1" fill="#1c1c1c"/><circle cx="573.2" cy="1820.1" r="5.0" fill="#262626"/><circle cx="570.5" cy="1832.4" r="4.2" fill="#262626"/><circle cx="580.4" cy="1819.3" r="9.2" fill="#262626"/><circle cx="582.8" cy="1821.5" r="5.5" fill="#303030"/><circle cx="580.5" cy="1832.8" r="7.6" fill="#3a3a3a"/><circle cx="586.2" cy="1828.7" r="9.4" fill="#303030"/><circle cx="586.9" cy="1834.0" r="5.0" fill="#1c1c1c"/><circle cx="589.7" cy="1835.4" r="5.3" fill="#3a3a3a"/><circle cx="591.7" cy="1838.5" r="5.1" fill="#3a3a3a"/><circle cx="592.0" cy="1844.7" r="4.9" fill="#262626"/><circle cx="595.4" cy="1844.8" r="4.2" fill="#303030"/><circle cx="598.4" cy="1845.9" r="5.0" fill="#1c1c1c"/><circle cx="606.7" cy="1836.8" r="8.2" fill="#262626"/><circle cx="605.6" cy="1845.7" r="5.5" fill="#262626"/></g>
<rect x="573.70" y="1885.00" width="23.90" height="2.90" fill="#ffffff"/>
</g>
<text x="134.55" y="1742.50" font-family="'Liberation Serif', 'Times New Roman', serif" font-weight="bold" font-size="35.89" textLength="129.30" lengthAdjust="spacingAndGlyphs" fill="#000">WT+PBS</text>
<text x="399.54" y="1742.50" font-family="'Liberation Serif', 'Times New Roman', serif" font-weight="bold" font-size="35.89" textLength="185.42" lengthAdjust="spacingAndGlyphs" fill="#000">WT+DA4-JC</text>
<text x="101.29" y="1944.50" font-family="'Liberation Serif', 'Times New Roman', serif" font-weight="bold" font-size="35.89" textLength="205.09" lengthAdjust="spacingAndGlyphs" fill="#000">3xTg-AD+PBS</text>
<text x="357.77" y="1944.50" font-family="'Liberation Serif', 'Times New Roman', serif" font-weight="bold" font-size="35.89" textLength="262.22" lengthAdjust="spacingAndGlyphs" fill="#000">3xTg-AD+DA4-JC</text>
</svg>
</body></html>
